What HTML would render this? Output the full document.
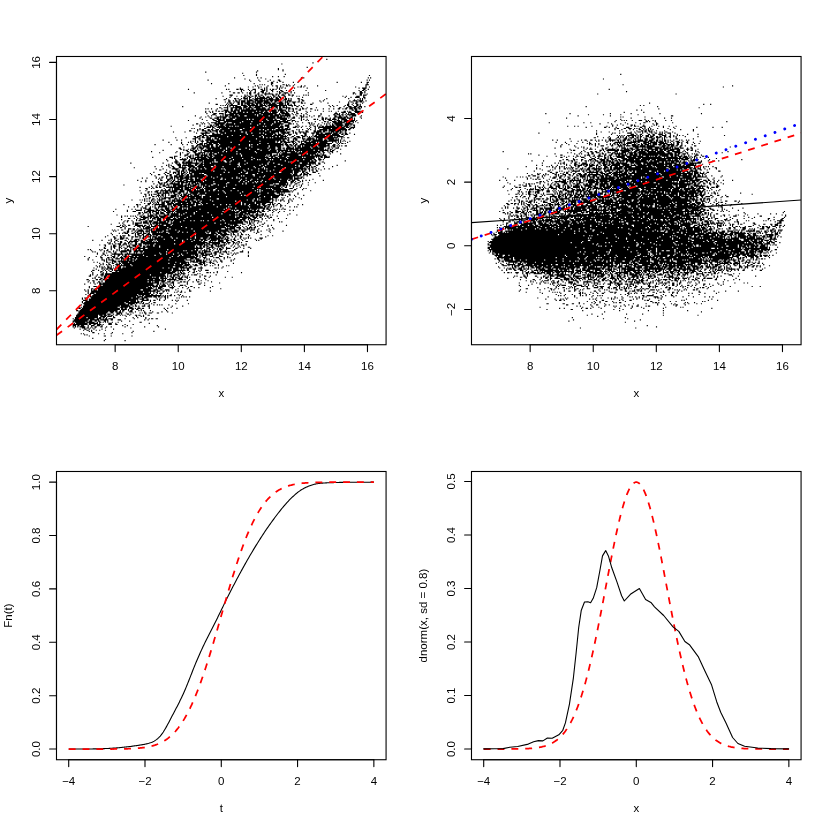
<!DOCTYPE html>
<html><head><meta charset="utf-8"><title>plot</title>
<style>html,body{margin:0;padding:0;background:#fff}svg{display:block}</style></head><body>
<svg width="830" height="830" viewBox="0 0 830 830">
<rect width="830" height="830" fill="#fff"/>
<defs>
<clipPath id="c1"><rect x="56.49" y="56.49" width="329.58" height="288.24"/></clipPath>
<clipPath id="c2"><rect x="471.49" y="56.49" width="329.58" height="288.24"/></clipPath>
<clipPath id="c3"><rect x="56.49" y="471.49" width="329.58" height="288.24"/></clipPath>
<clipPath id="c4"><rect x="471.49" y="471.49" width="329.58" height="288.24"/></clipPath>
</defs>
<g transform="scale(1.152778)" stroke="#000" stroke-width="1" fill="none">
<path d="M283 51.5h1M271 54.5h1M244 55.5h1M266 58.5h1M241 59.5h1M241 60.5h1m3 0h1M223 61.5h1m21 0h1M178 62.5h1m43 0h1M210 63.5h1M222 64.5h1m24 0h1M211 65.5h1m10 0h1m97 0h1M236 66.5h1m4 0h1m4 0h1M203 67.5h1m19 0h1m2 0h1m34 0h1m1 0h1m55 0h1m1 0h1M212 68.5h1m17 0h1M180 69.5h1m35 0h1m7 0h1m9 0h1m6 0h2m75 0h1m1 0h1M217 70.5h1m7 0h1m6 0h1m4 0h1m4 0h2M235 71.5h2m3 0h1m4 0h1m8 0h1m3 0h1m33 0h1m20 0h1m4 0h2M183 72.5h1m14 0h1m21 0h1m14 0h2m81 0h1M225 73.5h1m1 0h1m1 0h1m5 0h1m9 0h2m1 0h1m1 0h1m4 0h1m61 0h3M195 74.5h1m25 0h1m1 0h1m8 0h1m3 0h1m2 0h2m2 0h1m4 0h2m1 0h1m2 0h1m6 0h1m2 0h1m10 0h1m41 0h1M215 75.5h1m3 0h1m4 0h1m1 0h1m4 0h1m8 0h1m2 0h1m1 0h1m12 0h1m1 0h2m1 0h1m44 0h1m8 0h1m2 0h1M208 76.5h1m15 0h1m4 0h1m1 0h1m8 0h1m1 0h1m1 0h1m2 0h1m7 0h1m10 0h1m44 0h1m2 0h4M163 77.5h1m32 0h1m1 0h1m6 0h2m1 0h3m4 0h1m3 0h3m4 0h2m1 0h1m1 0h1m2 0h1m1 0h2m1 0h1m2 0h1m72 0h2m2 0h1M209 78.5h1m1 0h1m4 0h1m1 0h1m2 0h1m5 0h3m1 0h1m3 0h2m6 0h2m3 0h1m5 0h1m10 0h1m16 0h1m28 0h1m2 0h2m1 0h1M199 79.5h1m9 0h1m7 0h1m3 0h1m4 0h3m2 0h1m4 0h1m3 0h1m1 0h1m1 0h2m6 0h1m59 0h2m2 0h1M168 80.5h1m23 0h1m9 0h2m2 0h2m2 0h1m3 0h1m1 0h2m2 0h2m2 0h1m2 0h2m1 0h1m2 0h1m8 0h2m2 0h4m2 0h1m2 0h1m11 0h1m38 0h2m4 0h3m1 0h1M216 81.5h2m5 0h2m4 0h8m2 0h2m1 0h1m2 0h1m1 0h1m2 0h1m55 0h1m1 0h1m3 0h2m4 0h1M199 82.5h3m10 0h1m1 0h1m2 0h1m3 0h2m1 0h1m1 0h2m2 0h1m5 0h2m1 0h1m1 0h1m2 0h3m3 0h2m1 0h2m8 0h1m1 0h1m1 0h1m44 0h2m1 0h3M193 83.5h1m6 0h1m4 0h1m3 0h1m2 0h2m1 0h2m1 0h2m1 0h2m1 0h2m2 0h1m3 0h1m1 0h1m2 0h2m2 0h2m3 0h2m5 0h1m3 0h1m1 0h1m37 0h1m2 0h1m8 0h3m3 0h1M199 84.5h1m11 0h2m1 0h1m1 0h2m3 0h1m1 0h1m1 0h5m1 0h3m1 0h1m1 0h1m1 0h2m1 0h2m3 0h1m14 0h1m36 0h1m4 0h1m3 0h4m3 0h2M187 85.5h1m8 0h1m6 0h2m1 0h1m2 0h1m1 0h4m1 0h1m2 0h1m1 0h11m1 0h4m2 0h3m1 0h1m1 0h1m1 0h2m1 0h1m1 0h1m5 0h2m23 0h1m18 0h1m9 0h1m1 0h1m1 0h1M194 86.5h2m2 0h1m5 0h1m2 0h2m3 0h1m1 0h1m1 0h3m1 0h4m1 0h3m1 0h1m1 0h13m2 0h3m1 0h1m1 0h1m6 0h1m1 0h2m18 0h1m25 0h1m2 0h1m1 0h1m1 0h1M198 87.5h2m2 0h1m1 0h2m1 0h1m1 0h4m1 0h6m1 0h12m1 0h3m1 0h6m1 0h1m1 0h1m1 0h4m6 0h1m2 0h2m13 0h1m2 0h1m22 0h1m2 0h4m1 0h4m2 0h1M195 88.5h1m2 0h2m3 0h1m1 0h3m1 0h4m1 0h3m2 0h3m1 0h5m1 0h5m1 0h1m2 0h2m2 0h3m2 0h3m1 0h1m1 0h4m1 0h2m1 0h1m16 0h1m15 0h1m7 0h1m1 0h2m3 0h2m1 0h2m1 0h1M181 89.5h1m15 0h1m1 0h2m1 0h1m3 0h2m1 0h2m1 0h8m1 0h6m1 0h7m1 0h3m1 0h6m1 0h1m1 0h2m3 0h2m5 0h2m1 0h1m6 0h1m12 0h1m17 0h1m3 0h1m1 0h2m4 0h1M187 90.5h2m7 0h1m1 0h1m1 0h2m4 0h2m1 0h2m1 0h1m1 0h3m1 0h3m1 0h2m1 0h3m1 0h1m1 0h1m1 0h7m2 0h4m1 0h1m1 0h2m1 0h1m2 0h1m13 0h2m30 0h2m2 0h1m3 0h2m1 0h1M191 91.5h1m1 0h1m1 0h1m1 0h1m1 0h7m3 0h5m1 0h9m1 0h6m1 0h17m1 0h4m1 0h2m2 0h1m3 0h1m21 0h1m2 0h1m3 0h1m6 0h1m1 0h2m3 0h1m2 0h2m1 0h1M158 92.5h1m38 0h1m1 0h1m2 0h1m1 0h5m2 0h4m1 0h2m1 0h1m1 0h7m2 0h2m1 0h1m1 0h6m1 0h2m1 0h2m1 0h1m4 0h1m3 0h2m2 0h1m24 0h1m2 0h1m8 0h1m3 0h3m2 0h3m1 0h3m2 0h1M190 93.5h2m2 0h4m2 0h10m1 0h3m1 0h4m1 0h6m1 0h3m3 0h4m2 0h2m1 0h2m1 0h7m10 0h1m3 0h1m7 0h1m19 0h2m4 0h2m1 0h6m1 0h2m1 0h1M178 94.5h1m1 0h1m2 0h1m4 0h1m3 0h1m4 0h1m2 0h2m2 0h2m1 0h3m1 0h1m1 0h4m1 0h2m2 0h9m1 0h2m1 0h1m2 0h1m1 0h1m1 0h3m3 0h1m1 0h2m1 0h2m1 0h2m2 0h1m1 0h2m1 0h1m3 0h2m9 0h1m4 0h1m3 0h1m3 0h2m2 0h1m1 0h2m2 0h3m1 0h3m1 0h2M187 95.5h1m6 0h4m2 0h2m1 0h5m1 0h31m1 0h7m2 0h1m3 0h1m4 0h2m12 0h1m1 0h1m29 0h2m1 0h2M178 96.5h1m2 0h1m2 0h1m2 0h1m1 0h2m1 0h2m1 0h4m1 0h5m1 0h2m1 0h13m1 0h2m1 0h3m1 0h2m2 0h6m1 0h1m1 0h3m1 0h2m1 0h2m1 0h2m2 0h1m7 0h1m3 0h1m10 0h1m4 0h1m1 0h1m5 0h1m4 0h2m1 0h1m1 0h1m3 0h7M178 97.5h1m3 0h1m1 0h1m10 0h2m1 0h3m1 0h3m1 0h5m1 0h2m1 0h4m1 0h8m1 0h4m1 0h1m1 0h5m2 0h4m1 0h2m5 0h1m1 0h1m8 0h1m24 0h1m4 0h4m2 0h3m3 0h4m2 0h1M179 98.5h1m5 0h3m2 0h4m1 0h1m3 0h26m1 0h14m2 0h1m1 0h7m2 0h1m3 0h2m2 0h1m3 0h1m12 0h1m11 0h3m1 0h1m2 0h1m2 0h1m1 0h1m1 0h4m2 0h1M184 99.5h3m6 0h1m1 0h8m1 0h2m1 0h14m1 0h1m1 0h3m1 0h9m1 0h6m1 0h1m1 0h5m2 0h1m1 0h1m6 0h1m2 0h1m11 0h1m10 0h2m1 0h3m1 0h2m1 0h1m1 0h8M169 100.5h1m10 0h1m2 0h1m3 0h1m3 0h1m1 0h1m1 0h3m1 0h8m1 0h4m2 0h9m1 0h9m1 0h8m1 0h9m5 0h1m2 0h2m1 0h1m4 0h1m3 0h1m3 0h2m7 0h1m4 0h2m2 0h2m1 0h1m2 0h1m2 0h1m1 0h4m4 0h1M174 101.5h1m3 0h1m2 0h1m6 0h9m1 0h2m1 0h38m1 0h5m1 0h1m2 0h1m1 0h1m2 0h2m5 0h3m1 0h2m3 0h1m5 0h1m2 0h1m10 0h7m1 0h4m2 0h2m6 0h1M173 102.5h1m8 0h2m2 0h4m1 0h1m1 0h3m3 0h5m1 0h34m1 0h9m1 0h1m2 0h3m3 0h1m1 0h1m17 0h2m1 0h2m2 0h1m2 0h2m2 0h7m1 0h5m1 0h1m5 0h1M175 103.5h1m8 0h2m2 0h4m1 0h2m1 0h6m2 0h10m1 0h1m1 0h2m1 0h11m1 0h5m1 0h2m3 0h6m3 0h1m8 0h1m1 0h1m2 0h1m5 0h2m1 0h1m3 0h2m1 0h1m1 0h3m1 0h4m1 0h1m2 0h5m2 0h1m1 0h1m1 0h1M163 104.5h1m15 0h1m5 0h3m1 0h6m1 0h36m1 0h10m2 0h3m1 0h3m1 0h3m5 0h1m3 0h1m1 0h1m9 0h1m2 0h1m4 0h3m2 0h1m1 0h3m1 0h1m1 0h10m1 0h1M187 105.5h4m3 0h16m1 0h7m1 0h8m1 0h10m1 0h2m1 0h8m3 0h1m2 0h1m1 0h1m14 0h1m7 0h2m1 0h1m3 0h4m1 0h4m1 0h9m1 0h1M174 106.5h1m1 0h1m3 0h1m2 0h5m1 0h7m1 0h1m3 0h7m1 0h29m1 0h5m2 0h6m10 0h1m4 0h2m1 0h1m8 0h1m4 0h1m1 0h1m2 0h10m1 0h4m2 0h1m3 0h1M170 107.5h2m3 0h1m1 0h1m3 0h1m4 0h9m1 0h7m1 0h13m1 0h7m1 0h3m1 0h6m1 0h9m4 0h3m1 0h1m2 0h1m10 0h1m1 0h1m1 0h1m3 0h1m4 0h1m1 0h1m1 0h1m2 0h1m1 0h7m2 0h7M167 108.5h1m5 0h1m8 0h2m1 0h1m1 0h3m1 0h3m1 0h28m1 0h11m1 0h7m1 0h1m2 0h4m7 0h1m10 0h1m1 0h1m3 0h1m2 0h1m4 0h1m2 0h1m1 0h2m1 0h7m1 0h4m1 0h1m1 0h2M148 109.5h1m24 0h1m3 0h1m2 0h1m1 0h3m1 0h2m1 0h6m1 0h3m1 0h1m1 0h2m1 0h1m1 0h21m1 0h1m1 0h11m1 0h3m1 0h4m5 0h2m1 0h1m2 0h1m2 0h1m2 0h1m3 0h2m1 0h1m1 0h1m1 0h2m1 0h9m1 0h5m1 0h4m1 0h1m3 0h1M179 110.5h4m1 0h2m2 0h29m1 0h28m3 0h2m3 0h3m1 0h1m2 0h1m7 0h1m3 0h1m2 0h18m1 0h4m1 0h3m1 0h4M166 111.5h1m1 0h1m4 0h1m3 0h2m5 0h1m1 0h1m3 0h1m1 0h6m1 0h12m1 0h27m2 0h2m1 0h2m1 0h3m1 0h1m14 0h1m1 0h1m4 0h1m2 0h1m3 0h7m1 0h12m3 0h2m1 0h1M171 112.5h1m1 0h1m1 0h2m3 0h2m1 0h2m2 0h3m1 0h17m2 0h15m1 0h2m1 0h3m1 0h3m1 0h1m1 0h13m5 0h1m1 0h1m2 0h1m4 0h1m1 0h1m3 0h1m3 0h7m1 0h16m1 0h2M164 113.5h2m5 0h1m3 0h4m1 0h3m1 0h5m1 0h3m1 0h6m1 0h2m1 0h26m1 0h16m1 0h1m4 0h2m4 0h1m5 0h2m5 0h2m1 0h4m1 0h4m1 0h11m1 0h1m1 0h2M150 114.5h1m9 0h1m7 0h1m9 0h2m2 0h2m3 0h2m1 0h19m2 0h2m1 0h20m1 0h7m1 0h5m1 0h3m2 0h1m1 0h1m2 0h5m1 0h3m4 0h7m1 0h2m3 0h1m1 0h3m1 0h3m1 0h2m2 0h1M170 115.5h1m3 0h8m2 0h2m2 0h1m2 0h4m1 0h17m1 0h4m1 0h6m1 0h2m1 0h10m2 0h1m2 0h7m3 0h1m1 0h2m2 0h1m2 0h3m4 0h3m1 0h3m1 0h2m2 0h6m1 0h4m1 0h2m1 0h1m1 0h2m2 0h1M175 116.5h2m1 0h1m5 0h8m1 0h21m1 0h15m1 0h6m1 0h2m1 0h3m1 0h2m3 0h3m4 0h1m6 0h2m5 0h1m2 0h13m1 0h6m2 0h2m1 0h3m5 0h1M173 117.5h2m1 0h4m1 0h20m1 0h6m1 0h10m1 0h7m1 0h8m1 0h9m1 0h1m1 0h1m1 0h1m3 0h1m5 0h2m1 0h2m5 0h1m1 0h2m1 0h6m1 0h2m1 0h9m3 0h1M168 118.5h2m1 0h3m1 0h2m2 0h2m1 0h15m1 0h27m1 0h2m1 0h10m1 0h2m1 0h6m4 0h2m2 0h3m2 0h3m1 0h1m1 0h1m1 0h1m1 0h12m1 0h4m1 0h1m1 0h6M152 119.5h1m8 0h1m7 0h3m1 0h1m1 0h3m1 0h4m3 0h2m1 0h39m1 0h2m1 0h2m1 0h1m1 0h9m1 0h1m1 0h2m1 0h1m2 0h2m1 0h3m1 0h1m4 0h3m1 0h1m2 0h19m3 0h1m1 0h1m2 0h2M167 120.5h3m2 0h2m5 0h4m1 0h1m1 0h4m1 0h31m1 0h26m1 0h1m3 0h4m4 0h3m1 0h7m1 0h1m1 0h4m2 0h1m1 0h6m1 0h1m1 0h1m2 0h1M141 121.5h1m11 0h1m3 0h1m11 0h1m3 0h1m1 0h1m2 0h8m2 0h56m1 0h2m2 0h2m3 0h1m1 0h2m5 0h1m1 0h5m1 0h9m1 0h3m1 0h9m1 0h1m2 0h1M165 122.5h1m1 0h1m1 0h1m1 0h1m2 0h3m2 0h2m1 0h34m1 0h8m1 0h13m1 0h2m1 0h5m2 0h1m1 0h4m2 0h2m1 0h5m2 0h1m1 0h22m1 0h1m1 0h1m1 0h1m1 0h1m3 0h1M146 123.5h1m10 0h1m5 0h1m1 0h1m3 0h1m1 0h1m3 0h1m3 0h21m1 0h38m1 0h1m2 0h2m1 0h6m1 0h2m1 0h1m2 0h1m1 0h1m2 0h10m1 0h1m1 0h7m4 0h1m2 0h1m1 0h1m1 0h1m5 0h1M157 124.5h1m8 0h1m3 0h1m2 0h3m1 0h3m1 0h3m1 0h4m1 0h35m1 0h6m1 0h11m1 0h1m1 0h2m5 0h2m1 0h1m3 0h3m1 0h5m1 0h17m4 0h1m1 0h1m1 0h2m1 0h1M134 125.5h1m13 0h1m9 0h1m3 0h1m8 0h5m1 0h1m1 0h6m2 0h3m1 0h16m1 0h8m1 0h1m1 0h4m1 0h22m1 0h3m1 0h2m1 0h1m1 0h2m2 0h23m1 0h2m3 0h2m2 0h1M166 126.5h2m2 0h2m1 0h1m1 0h7m1 0h2m2 0h2m1 0h26m1 0h16m1 0h10m1 0h1m2 0h3m1 0h2m1 0h2m1 0h3m1 0h1m1 0h11m1 0h10m2 0h3m1 0h1m1 0h1m1 0h1m2 0h2M159 127.5h1m7 0h1m1 0h2m1 0h3m1 0h6m1 0h3m1 0h11m1 0h19m1 0h14m1 0h5m1 0h4m5 0h3m2 0h1m1 0h1m1 0h3m1 0h7m1 0h6m1 0h6m2 0h1m1 0h1m1 0h2m2 0h1M155 128.5h2m9 0h4m1 0h1m1 0h4m2 0h12m1 0h4m1 0h3m1 0h12m1 0h18m1 0h6m2 0h3m1 0h2m1 0h7m1 0h14m1 0h10m3 0h2m2 0h1m2 0h3M156 129.5h2m1 0h1m3 0h1m1 0h1m1 0h2m2 0h1m2 0h2m2 0h1m1 0h3m1 0h12m1 0h10m2 0h7m1 0h6m2 0h9m1 0h4m1 0h4m2 0h1m1 0h11m1 0h21m1 0h1m1 0h1m1 0h2m2 0h1m4 0h1M141 130.5h1m17 0h1m1 0h2m2 0h3m1 0h2m1 0h1m1 0h1m1 0h18m1 0h31m1 0h6m1 0h6m1 0h9m1 0h2m1 0h1m1 0h16m1 0h3m1 0h8m1 0h1m1 0h2M131 131.5h1m21 0h1m8 0h2m3 0h4m3 0h1m2 0h16m1 0h2m1 0h8m1 0h15m1 0h18m1 0h2m1 0h2m1 0h9m1 0h2m1 0h1m1 0h16m1 0h2m3 0h1m1 0h3m3 0h1M138 132.5h1m13 0h1m3 0h1m1 0h1m5 0h1m3 0h2m2 0h6m2 0h1m1 0h2m1 0h4m1 0h32m1 0h19m1 0h1m1 0h4m3 0h6m1 0h16m1 0h2m2 0h2m3 0h1m2 0h1M156 133.5h1m5 0h2m5 0h5m1 0h1m1 0h1m1 0h1m1 0h5m2 0h17m1 0h2m1 0h27m4 0h1m1 0h1m1 0h22m1 0h7m1 0h1m2 0h1m1 0h1m5 0h1m8 0h1M156 134.5h1m3 0h3m2 0h1m1 0h1m1 0h4m1 0h6m1 0h3m1 0h7m1 0h16m1 0h21m1 0h1m1 0h2m1 0h4m1 0h17m2 0h8m1 0h2m1 0h5m1 0h4M151 135.5h3m6 0h1m2 0h3m1 0h1m3 0h2m1 0h2m1 0h4m1 0h3m1 0h23m1 0h20m1 0h1m1 0h6m2 0h4m1 0h3m2 0h29m1 0h3m1 0h1M132 136.5h1m14 0h3m1 0h1m4 0h1m5 0h1m1 0h2m1 0h1m1 0h10m1 0h4m1 0h16m1 0h16m1 0h14m2 0h2m1 0h3m1 0h6m1 0h13m1 0h1m1 0h8m1 0h1m1 0h1m1 0h2m1 0h5M149 137.5h1m1 0h1m6 0h1m1 0h1m1 0h1m2 0h5m1 0h2m1 0h6m1 0h18m1 0h10m1 0h9m1 0h9m1 0h18m1 0h23m3 0h2m3 0h1M144 138.5h1m7 0h1m3 0h6m2 0h1m1 0h1m1 0h18m1 0h15m1 0h15m1 0h4m1 0h1m1 0h5m1 0h2m1 0h1m1 0h6m1 0h19m1 0h7m1 0h2m2 0h3m1 0h1M145 139.5h1m6 0h2m5 0h2m2 0h2m1 0h1m1 0h1m1 0h1m1 0h4m1 0h9m1 0h7m2 0h4m1 0h11m1 0h34m1 0h7m1 0h2m1 0h10m1 0h2m1 0h2m2 0h1m21 0h1M151 140.5h4m3 0h2m1 0h6m3 0h1m2 0h1m1 0h9m1 0h1m3 0h6m2 0h2m1 0h33m1 0h16m1 0h1m1 0h21m5 0h2M113 141.5h1m27 0h1m7 0h1m2 0h2m1 0h1m2 0h15m1 0h2m1 0h5m1 0h24m1 0h6m1 0h17m1 0h4m1 0h22m2 0h5m1 0h6m2 0h2m3 0h1M146 142.5h1m6 0h4m2 0h1m1 0h1m1 0h3m3 0h3m1 0h26m1 0h6m2 0h4m1 0h14m1 0h4m1 0h8m2 0h27m1 0h1m1 0h1m2 0h2M144 143.5h1m1 0h1m1 0h1m5 0h3m1 0h10m1 0h2m1 0h4m1 0h9m1 0h20m1 0h17m1 0h4m1 0h13m1 0h11m1 0h2m1 0h6m2 0h2m4 0h2m16 0h1M134 144.5h1m5 0h1m5 0h1m2 0h2m4 0h2m1 0h1m1 0h1m2 0h6m2 0h12m2 0h8m1 0h12m1 0h1m1 0h11m1 0h7m1 0h9m1 0h20m1 0h4m1 0h4m1 0h1m1 0h2m6 0h1m7 0h1M116 145.5h1m30 0h1m2 0h2m3 0h7m2 0h2m1 0h4m1 0h5m1 0h8m1 0h34m1 0h5m1 0h1m1 0h17m1 0h8m1 0h6m1 0h1m1 0h1m1 0h1m1 0h2m2 0h1M135 146.5h1m5 0h1m7 0h6m3 0h3m2 0h2m1 0h2m1 0h2m1 0h2m1 0h3m1 0h13m1 0h1m1 0h8m1 0h11m1 0h8m1 0h4m1 0h1m1 0h13m1 0h7m1 0h12m1 0h2m2 0h1m1 0h1m2 0h1m4 0h1m3 0h1M138 147.5h2m4 0h1m7 0h2m1 0h1m2 0h2m1 0h1m1 0h6m1 0h25m1 0h15m1 0h6m1 0h18m1 0h6m1 0h15m1 0h2m1 0h2m2 0h1m1 0h2m2 0h1m3 0h1M147 148.5h1m5 0h3m1 0h3m1 0h1m2 0h21m1 0h26m1 0h11m1 0h6m1 0h2m1 0h19m1 0h6m1 0h3m3 0h1m2 0h1m2 0h2M133 149.5h1m9 0h2m2 0h1m2 0h3m1 0h2m1 0h1m1 0h2m1 0h1m1 0h1m1 0h28m1 0h3m1 0h10m1 0h4m1 0h12m1 0h14m2 0h10m1 0h4m3 0h2m1 0h2m4 0h3M130 150.5h1m11 0h1m2 0h2m3 0h1m1 0h1m1 0h2m1 0h3m1 0h1m2 0h3m1 0h5m1 0h1m2 0h30m1 0h5m2 0h8m1 0h14m1 0h13m1 0h1m1 0h3m3 0h1m1 0h2m1 0h2m8 0h1M131 151.5h1m5 0h2m4 0h1m3 0h2m4 0h3m1 0h2m1 0h1m1 0h2m1 0h2m1 0h9m2 0h12m1 0h27m2 0h32m1 0h4m2 0h2m1 0h4m1 0h2M134 152.5h1m9 0h2m1 0h2m2 0h3m1 0h5m1 0h3m1 0h14m1 0h29m1 0h1m1 0h8m1 0h8m1 0h31m2 0h1m2 0h1m10 0h1M135 153.5h1m4 0h2m2 0h1m3 0h2m1 0h8m1 0h23m1 0h4m1 0h16m1 0h19m1 0h2m1 0h6m1 0h18m1 0h1m2 0h1m2 0h2M123 154.5h1m3 0h1m7 0h1m2 0h1m1 0h1m3 0h1m2 0h3m1 0h1m1 0h2m1 0h8m1 0h2m2 0h2m1 0h4m1 0h8m1 0h6m1 0h8m1 0h3m1 0h1m1 0h5m1 0h23m1 0h16m1 0h7m1 0h1M137 155.5h1m1 0h1m5 0h3m1 0h1m1 0h1m2 0h5m2 0h7m1 0h5m2 0h15m2 0h2m1 0h13m1 0h8m1 0h4m1 0h14m1 0h4m1 0h6m1 0h3m1 0h4m12 0h1M119 156.5h1m6 0h1m12 0h2m4 0h2m1 0h1m1 0h2m2 0h1m1 0h2m1 0h4m2 0h3m1 0h9m1 0h29m1 0h4m1 0h3m1 0h9m1 0h21m1 0h2m1 0h3m2 0h2m2 0h1m2 0h1m2 0h1m11 0h1M122 157.5h1m3 0h1m5 0h1m4 0h1m6 0h2m1 0h1m1 0h2m1 0h8m1 0h15m1 0h8m1 0h21m1 0h3m1 0h3m1 0h5m1 0h1m1 0h2m1 0h3m1 0h11m1 0h6m3 0h3m1 0h1m3 0h1m1 0h1M137 158.5h2m1 0h1m1 0h3m3 0h2m1 0h1m2 0h2m1 0h6m1 0h1m1 0h4m1 0h1m1 0h24m2 0h14m1 0h5m1 0h2m1 0h27m2 0h2m1 0h1m2 0h2m7 0h1m5 0h1M133 159.5h1m4 0h3m1 0h1m2 0h1m1 0h9m1 0h2m2 0h1m1 0h2m1 0h2m1 0h4m1 0h11m2 0h9m1 0h13m1 0h2m1 0h23m1 0h1m3 0h6m1 0h1m2 0h1m3 0h2m4 0h1M107 160.5h1m28 0h1m2 0h1m1 0h2m1 0h3m3 0h9m1 0h6m1 0h4m1 0h1m1 0h4m1 0h4m2 0h4m1 0h14m1 0h29m3 0h13m1 0h1m3 0h1m3 0h1m1 0h1m5 0h1M131 161.5h1m3 0h1m2 0h1m2 0h3m2 0h1m1 0h1m1 0h3m1 0h8m1 0h1m1 0h5m1 0h2m1 0h1m1 0h5m1 0h14m1 0h23m1 0h17m1 0h5m1 0h2m1 0h1m2 0h1m2 0h1m2 0h1m3 0h1M121 162.5h1m7 0h1m2 0h1m2 0h2m1 0h2m4 0h15m1 0h6m1 0h1m1 0h6m1 0h1m1 0h16m1 0h30m1 0h17m1 0h1m2 0h2m5 0h1m5 0h1M126 163.5h2m3 0h1m1 0h1m8 0h1m4 0h1m1 0h1m1 0h5m1 0h2m1 0h4m1 0h4m1 0h4m1 0h1m1 0h10m1 0h14m2 0h15m1 0h11m1 0h1m1 0h1m1 0h8m1 0h1m5 0h3m3 0h1m5 0h1m1 0h1M127 164.5h1m12 0h1m2 0h1m2 0h2m1 0h1m1 0h8m1 0h6m2 0h2m1 0h1m1 0h4m1 0h7m2 0h36m1 0h1m1 0h10m1 0h13m5 0h2m5 0h1M121 165.5h1m4 0h1m8 0h3m1 0h9m1 0h5m2 0h4m2 0h5m1 0h9m1 0h3m1 0h3m1 0h3m1 0h3m1 0h6m1 0h5m1 0h14m1 0h3m1 0h1m1 0h10m1 0h5m1 0h6m1 0h1m1 0h1m14 0h1M128 166.5h2m1 0h1m2 0h3m2 0h1m1 0h1m1 0h3m1 0h7m1 0h5m2 0h1m1 0h30m1 0h15m1 0h12m1 0h1m1 0h26m1 0h1M122 167.5h1m5 0h1m7 0h4m1 0h6m1 0h1m1 0h2m2 0h3m2 0h1m1 0h2m2 0h7m1 0h5m1 0h16m1 0h12m1 0h23m1 0h5m2 0h3m1 0h1m1 0h1m11 0h1M125 168.5h2m2 0h1m1 0h1m1 0h3m1 0h1m2 0h2m1 0h1m2 0h1m4 0h3m1 0h1m1 0h1m1 0h3m1 0h3m1 0h4m1 0h17m1 0h35m1 0h13m3 0h4m4 0h2m6 0h1M126 169.5h1m2 0h1m1 0h1m4 0h3m1 0h2m1 0h1m2 0h1m1 0h5m1 0h1m1 0h2m1 0h5m1 0h2m1 0h5m1 0h1m3 0h31m1 0h2m1 0h11m1 0h18m1 0h2m1 0h1m3 0h1m3 0h1m7 0h1M124 170.5h1m1 0h1m5 0h2m1 0h1m1 0h1m1 0h1m1 0h1m1 0h1m4 0h5m1 0h1m2 0h18m1 0h6m1 0h13m1 0h32m1 0h5m1 0h6m7 0h1m6 0h1M129 171.5h2m7 0h1m1 0h1m1 0h9m1 0h1m2 0h2m1 0h3m2 0h1m1 0h4m1 0h5m1 0h49m1 0h9m1 0h5m3 0h1m1 0h1m12 0h1M125 172.5h1m1 0h1m1 0h1m2 0h2m2 0h1m1 0h1m1 0h4m2 0h2m3 0h3m1 0h1m1 0h31m2 0h30m1 0h2m1 0h13m2 0h1m5 0h1m5 0h1m2 0h1m6 0h1M114 173.5h1m6 0h1m1 0h1m1 0h1m5 0h2m1 0h1m2 0h4m6 0h1m1 0h3m1 0h4m1 0h1m1 0h8m2 0h2m1 0h9m1 0h31m1 0h4m1 0h3m1 0h1m1 0h9m1 0h2m1 0h1m1 0h1m1 0h3m4 0h1m1 0h1M125 174.5h1m1 0h1m1 0h1m1 0h1m1 0h1m2 0h1m1 0h1m1 0h1m1 0h6m1 0h12m1 0h3m1 0h4m1 0h3m1 0h9m1 0h19m1 0h14m1 0h14m2 0h1m2 0h1m3 0h1m2 0h1m3 0h1m2 0h1M122 175.5h1m7 0h1m1 0h1m1 0h1m1 0h2m2 0h3m1 0h3m1 0h2m1 0h1m2 0h12m1 0h6m1 0h35m1 0h11m1 0h15m13 0h1M125 176.5h1m2 0h3m2 0h1m1 0h1m1 0h1m2 0h3m2 0h6m1 0h5m1 0h4m1 0h3m1 0h2m1 0h4m1 0h4m1 0h29m1 0h2m1 0h8m1 0h4m1 0h4m3 0h1m1 0h1m1 0h1m2 0h2m6 0h1M107 177.5h1m10 0h2m1 0h1m6 0h2m2 0h1m1 0h9m2 0h4m1 0h19m1 0h2m2 0h1m1 0h9m1 0h5m1 0h4m1 0h2m1 0h9m1 0h2m1 0h3m1 0h6m1 0h2m1 0h3m2 0h3m1 0h2m2 0h1m2 0h1m14 0h1m3 0h1M119 178.5h1m6 0h2m6 0h1m3 0h1m1 0h5m1 0h1m1 0h1m1 0h3m1 0h4m1 0h3m1 0h5m2 0h45m1 0h10m2 0h4m1 0h1m3 0h1m1 0h1m3 0h2m2 0h1M111 179.5h1m4 0h1m2 0h1m3 0h1m2 0h1m3 0h1m1 0h1m1 0h1m2 0h8m1 0h1m1 0h2m1 0h3m2 0h9m1 0h22m1 0h9m1 0h1m1 0h15m1 0h11m1 0h2m1 0h2m1 0h1m1 0h1m5 0h1m7 0h1m3 0h1m1 0h1M122 180.5h1m1 0h3m2 0h2m3 0h2m1 0h1m2 0h1m2 0h4m2 0h2m1 0h2m1 0h3m1 0h1m1 0h1m1 0h33m1 0h7m1 0h25m1 0h2m1 0h1m10 0h1M100 181.5h1m13 0h1m2 0h1m4 0h1m3 0h5m4 0h2m2 0h3m1 0h4m1 0h10m1 0h3m1 0h10m1 0h20m1 0h4m1 0h15m1 0h1m1 0h5m1 0h1m3 0h2m1 0h3m3 0h2m1 0h1m1 0h1m1 0h1m1 0h2M110 182.5h1m7 0h5m2 0h1m2 0h6m1 0h4m1 0h3m1 0h4m1 0h3m1 0h48m1 0h1m1 0h1m2 0h3m1 0h8m1 0h2m1 0h2m2 0h2m4 0h2m1 0h1m2 0h1m11 0h1m2 0h1M98 183.5h1m11 0h1m4 0h3m7 0h1m1 0h4m1 0h4m1 0h1m1 0h1m2 0h2m1 0h6m1 0h18m1 0h22m1 0h10m1 0h3m1 0h17m1 0h3m2 0h1m4 0h1m4 0h1m3 0h1M120 184.5h2m1 0h1m1 0h3m1 0h2m1 0h1m2 0h3m1 0h3m2 0h4m1 0h1m1 0h1m1 0h8m1 0h6m1 0h11m1 0h26m1 0h6m1 0h7m1 0h1m1 0h2m9 0h1m4 0h1M120 185.5h2m2 0h1m3 0h1m1 0h1m2 0h1m1 0h3m1 0h4m2 0h2m1 0h7m1 0h3m1 0h8m1 0h23m1 0h11m1 0h1m1 0h4m1 0h5m2 0h1m2 0h2m3 0h2m1 0h1m20 0h1M101 186.5h1m17 0h1m3 0h1m4 0h1m1 0h3m1 0h2m2 0h1m3 0h5m1 0h7m1 0h1m1 0h25m1 0h15m1 0h13m1 0h1m1 0h4m1 0h8m1 0h1m3 0h1m1 0h1m12 0h1m7 0h1M105 187.5h1m2 0h1m1 0h1m2 0h1m1 0h1m1 0h1m3 0h2m1 0h2m2 0h6m1 0h2m1 0h8m1 0h18m1 0h9m1 0h28m1 0h1m1 0h3m1 0h3m1 0h1m1 0h4m1 0h2m1 0h1m1 0h1m1 0h1m1 0h2m7 0h1M105 188.5h1m12 0h1m3 0h7m1 0h2m1 0h5m1 0h11m1 0h1m1 0h2m1 0h6m1 0h21m1 0h19m1 0h12m2 0h4m2 0h2m5 0h1m1 0h2M111 189.5h2m3 0h1m2 0h1m1 0h1m2 0h3m1 0h1m1 0h1m1 0h3m1 0h4m1 0h2m1 0h4m2 0h3m1 0h6m1 0h47m2 0h4m1 0h3m2 0h2m1 0h1m3 0h1m2 0h1m2 0h1m7 0h1m6 0h1M105 190.5h1m12 0h1m2 0h5m2 0h1m3 0h1m1 0h1m1 0h4m4 0h49m1 0h13m1 0h5m2 0h1m1 0h4m6 0h1m9 0h1M108 191.5h1m1 0h2m2 0h1m3 0h1m1 0h2m4 0h2m1 0h4m3 0h4m2 0h5m1 0h2m1 0h8m1 0h5m1 0h2m1 0h5m1 0h1m1 0h3m1 0h10m1 0h2m1 0h5m1 0h2m1 0h6m1 0h2m3 0h1m1 0h1m1 0h5m6 0h1m5 0h1M107 192.5h1m2 0h1m4 0h1m6 0h1m1 0h4m1 0h3m1 0h4m1 0h6m1 0h2m1 0h1m1 0h6m1 0h54m1 0h3m1 0h1m1 0h1m1 0h1m3 0h1m1 0h1m15 0h1m1 0h1M103 193.5h1m2 0h1m8 0h1m1 0h6m1 0h5m1 0h1m1 0h14m2 0h38m1 0h8m1 0h15m3 0h1m1 0h2m1 0h1m3 0h1m5 0h1M96 194.5h1m10 0h1m7 0h1m1 0h3m8 0h1m1 0h2m1 0h1m1 0h2m1 0h1m1 0h9m1 0h41m1 0h6m1 0h7m4 0h3m3 0h2m2 0h1m6 0h2M104 195.5h1m1 0h1m1 0h1m2 0h2m4 0h7m1 0h2m2 0h1m1 0h1m2 0h8m2 0h4m1 0h51m1 0h1m1 0h4m1 0h1m6 0h1m2 0h1m1 0h1m4 0h1m6 0h1m2 0h1m12 0h1M76 196.5h1m24 0h3m2 0h2m1 0h1m6 0h1m2 0h3m1 0h3m1 0h3m1 0h6m1 0h19m1 0h37m1 0h9m2 0h1m2 0h1m2 0h1m3 0h1m3 0h1m1 0h1m3 0h1m4 0h1M104 197.5h2m2 0h1m12 0h1m2 0h1m1 0h5m2 0h1m1 0h2m1 0h7m1 0h15m1 0h34m1 0h1m1 0h5m1 0h4m2 0h1m2 0h1m1 0h3m1 0h2m14 0h1M108 198.5h1m2 0h3m1 0h2m2 0h1m2 0h1m1 0h6m1 0h3m1 0h12m1 0h18m1 0h25m3 0h9m3 0h2m3 0h1m1 0h3m1 0h1m1 0h1m3 0h1m8 0h1m3 0h1M97 199.5h1m1 0h1m2 0h1m2 0h2m4 0h1m3 0h2m1 0h1m1 0h4m3 0h1m1 0h3m1 0h1m1 0h9m2 0h6m1 0h45m1 0h2m2 0h3m1 0h1m1 0h3m1 0h2m2 0h4m2 0h1m7 0h1m2 0h1M98 200.5h1m1 0h1m9 0h2m2 0h1m2 0h1m1 0h6m1 0h4m1 0h10m1 0h13m1 0h12m1 0h11m1 0h8m1 0h9m1 0h7m3 0h3m4 0h1m5 0h1m2 0h1m6 0h1m11 0h1M107 201.5h2m1 0h2m4 0h1m1 0h2m2 0h1m1 0h1m2 0h1m1 0h1m1 0h5m1 0h1m1 0h1m1 0h3m2 0h8m1 0h3m1 0h3m1 0h15m1 0h3m1 0h4m1 0h4m1 0h3m2 0h2m1 0h5m2 0h1m2 0h1m8 0h1m2 0h2m9 0h1M96 202.5h1m6 0h1m2 0h1m1 0h3m3 0h2m1 0h1m1 0h4m1 0h3m1 0h2m2 0h14m1 0h32m1 0h1m2 0h5m1 0h4m1 0h3m3 0h1m1 0h1m3 0h1m2 0h1m12 0h1M97 203.5h1m13 0h1m5 0h1m1 0h2m2 0h2m2 0h4m1 0h37m1 0h16m1 0h2m2 0h8m1 0h1m1 0h2m2 0h1m2 0h2m2 0h1m1 0h1m10 0h1M93 204.5h1m7 0h1m2 0h1m1 0h3m2 0h2m4 0h1m2 0h3m1 0h1m1 0h3m1 0h2m1 0h1m1 0h2m2 0h49m1 0h2m1 0h4m4 0h1m3 0h1m1 0h1m1 0h1m7 0h1m15 0h1m3 0h1M91 205.5h1m6 0h2m4 0h2m1 0h1m6 0h2m1 0h3m1 0h1m2 0h3m1 0h3m1 0h4m1 0h3m1 0h7m1 0h16m1 0h3m1 0h11m1 0h6m1 0h3m1 0h2m1 0h2m3 0h1m2 0h1m3 0h2m5 0h1m14 0h1M99 206.5h2m3 0h4m1 0h2m3 0h1m6 0h1m1 0h2m1 0h1m3 0h1m1 0h1m1 0h15m1 0h3m1 0h15m1 0h4m2 0h4m1 0h13m1 0h1m1 0h2m4 0h1m4 0h1m2 0h1m1 0h1m1 0h1m1 0h1m7 0h3M96 207.5h1m2 0h1m2 0h1m1 0h3m4 0h1m2 0h1m2 0h4m3 0h2m2 0h14m1 0h19m1 0h2m1 0h13m1 0h2m1 0h8m1 0h1m1 0h4m2 0h1m1 0h2m2 0h1m2 0h1m2 0h1m8 0h1m4 0h1M80 208.5h1m7 0h1m5 0h1m1 0h1m3 0h2m6 0h2m3 0h1m2 0h3m1 0h1m1 0h2m2 0h2m1 0h4m1 0h1m1 0h15m1 0h6m1 0h9m1 0h4m1 0h2m1 0h3m2 0h6m1 0h5m2 0h3m1 0h1m2 0h2m5 0h1m11 0h1m1 0h1M96 209.5h1m2 0h1m2 0h1m1 0h2m4 0h1m1 0h8m2 0h4m1 0h5m1 0h1m1 0h1m1 0h21m1 0h7m1 0h8m1 0h2m3 0h2m1 0h1m1 0h1m2 0h5m2 0h2m3 0h2m3 0h2m5 0h2M93 210.5h1m1 0h1m3 0h1m4 0h2m2 0h1m2 0h2m1 0h1m2 0h2m3 0h58m1 0h10m1 0h4m1 0h3m2 0h2m1 0h1m1 0h1m1 0h1M94 211.5h2m1 0h1m2 0h1m1 0h3m2 0h3m1 0h1m1 0h1m3 0h2m1 0h3m1 0h10m1 0h16m1 0h26m1 0h3m2 0h7m3 0h1m1 0h1m1 0h1m3 0h1m1 0h1m1 0h1m6 0h1M86 212.5h1m3 0h2m6 0h2m3 0h2m1 0h2m1 0h1m2 0h1m1 0h5m1 0h3m3 0h1m1 0h1m1 0h3m1 0h36m1 0h5m1 0h3m1 0h4m1 0h2m1 0h1m1 0h5m5 0h1m4 0h1m2 0h3m1 0h1M91 213.5h1m4 0h1m1 0h3m2 0h1m1 0h1m4 0h3m2 0h3m1 0h1m1 0h2m1 0h2m1 0h6m1 0h4m1 0h30m1 0h1m2 0h2m1 0h2m1 0h2m2 0h2m2 0h6m1 0h1m5 0h1m2 0h1m3 0h1m3 0h1M90 214.5h1m5 0h1m1 0h2m3 0h2m2 0h1m2 0h1m1 0h3m2 0h5m2 0h14m1 0h30m1 0h2m1 0h2m1 0h2m1 0h1m1 0h5m3 0h1m2 0h2m2 0h1m5 0h1m3 0h1m1 0h1m6 0h2M90 215.5h2m4 0h1m2 0h1m3 0h1m1 0h1m2 0h2m3 0h1m1 0h2m1 0h8m2 0h48m3 0h3m2 0h1m1 0h1m1 0h1m1 0h2m1 0h1m2 0h4m4 0h2m5 0h1m5 0h1M76 216.5h1m1 0h1m7 0h1m1 0h1m4 0h1m2 0h1m4 0h1m1 0h1m4 0h1m1 0h2m1 0h1m1 0h4m1 0h2m2 0h21m1 0h23m1 0h2m2 0h1m2 0h1m1 0h1m1 0h2m2 0h1m2 0h1m1 0h3m3 0h1m6 0h1M79 217.5h1m7 0h1m2 0h1m1 0h2m4 0h1m2 0h1m1 0h1m1 0h9m2 0h43m1 0h1m1 0h4m1 0h5m1 0h1m1 0h5m1 0h1m2 0h1m4 0h1m1 0h1m3 0h1m5 0h2m7 0h1M80 218.5h1m1 0h1m7 0h1m3 0h2m2 0h1m1 0h1m3 0h6m2 0h2m2 0h4m1 0h3m1 0h19m1 0h26m1 0h2m1 0h1m1 0h6m3 0h4m1 0h1m1 0h4m1 0h1m9 0h3m4 0h1M84 219.5h1m4 0h1m2 0h1m3 0h1m2 0h2m4 0h1m4 0h1m1 0h1m3 0h1m1 0h1m3 0h1m1 0h14m1 0h15m1 0h7m1 0h8m1 0h7m4 0h1m1 0h3m2 0h2m4 0h1m3 0h1m2 0h1m1 0h2m8 0h1M84 220.5h1m4 0h2m6 0h10m1 0h31m1 0h4m1 0h5m1 0h6m1 0h14m2 0h3m1 0h6m2 0h2m4 0h2m3 0h2m3 0h1m1 0h1M88 221.5h1m2 0h1m1 0h1m2 0h1m2 0h1m2 0h2m2 0h1m1 0h2m1 0h1m2 0h10m1 0h9m1 0h20m1 0h2m1 0h7m1 0h1m1 0h3m1 0h1m1 0h5m1 0h1m2 0h1m1 0h1m3 0h1m10 0h1m13 0h1M73 222.5h1m9 0h1m3 0h1m9 0h3m2 0h1m2 0h1m1 0h9m1 0h2m1 0h7m1 0h21m1 0h4m1 0h14m1 0h2m1 0h1m1 0h1m2 0h1m3 0h3m5 0h3m4 0h1m17 0h1M77 223.5h1m9 0h2m4 0h2m1 0h1m1 0h2m1 0h1m2 0h3m1 0h4m1 0h34m1 0h23m2 0h1m2 0h3m6 0h1m1 0h3m4 0h1m2 0h1m1 0h1M76 224.5h1m11 0h1m3 0h1m1 0h1m2 0h1m2 0h4m1 0h3m1 0h6m1 0h2m1 0h43m3 0h3m1 0h4m4 0h1m1 0h1m1 0h1m8 0h1m3 0h1m8 0h1M76 225.5h1m3 0h1m7 0h3m1 0h1m1 0h5m6 0h1m1 0h2m1 0h2m1 0h4m1 0h28m1 0h13m1 0h5m2 0h1m1 0h5m1 0h1m2 0h1m1 0h1m1 0h1m2 0h1m4 0h1m8 0h1m1 0h1M90 226.5h1m1 0h1m4 0h4m1 0h13m1 0h45m4 0h4m1 0h5m1 0h3m3 0h1m2 0h1m1 0h1m3 0h2m7 0h1M81 227.5h1m2 0h1m7 0h2m1 0h1m1 0h1m1 0h2m2 0h1m1 0h6m1 0h40m1 0h11m1 0h1m1 0h5m1 0h5m1 0h1m1 0h3m4 0h1m3 0h1M86 228.5h1m2 0h1m4 0h1m2 0h2m2 0h1m1 0h2m1 0h40m1 0h9m1 0h5m1 0h1m8 0h3m1 0h2m4 0h1m1 0h2m16 0h1M87 229.5h1m1 0h1m2 0h1m1 0h2m4 0h4m1 0h1m1 0h6m1 0h37m1 0h7m1 0h5m2 0h1m1 0h2m2 0h3m1 0h1m1 0h1m6 0h1m2 0h1M83 230.5h1m2 0h1m6 0h1m2 0h1m1 0h1m2 0h13m1 0h43m1 0h5m1 0h1m2 0h4m5 0h2m3 0h1m1 0h1m4 0h1m6 0h1m1 0h1M84 231.5h1m1 0h1m1 0h1m1 0h1m2 0h2m1 0h1m3 0h1m1 0h3m2 0h1m1 0h41m2 0h8m1 0h1m2 0h3m7 0h1m18 0h1M81 232.5h1m6 0h2m1 0h1m1 0h4m1 0h1m1 0h5m1 0h35m1 0h4m1 0h8m1 0h10m3 0h1m2 0h4m10 0h2m1 0h1m2 0h1M83 233.5h1m4 0h1m1 0h1m1 0h2m1 0h3m1 0h2m1 0h47m1 0h5m2 0h1m1 0h1m2 0h2m3 0h3m4 0h1M80 234.5h2m3 0h1m3 0h1m1 0h1m2 0h1m2 0h1m1 0h50m1 0h11m1 0h2m4 0h1m3 0h1m1 0h1m3 0h3M79 235.5h1m7 0h2m3 0h1m2 0h2m3 0h2m1 0h45m1 0h4m1 0h1m1 0h1m1 0h1m5 0h1m3 0h1m1 0h1m2 0h1m14 0h1m8 0h1M80 236.5h1m6 0h1m1 0h1m2 0h1m4 0h42m1 0h12m2 0h1m1 0h2m1 0h1m3 0h1m3 0h2m10 0h2m1 0h1m2 0h1m2 0h1m20 0h1M80 237.5h1m7 0h2m1 0h53m1 0h5m2 0h1m1 0h2m1 0h4m10 0h1m1 0h1M78 238.5h1m1 0h1m3 0h1m2 0h3m1 0h39m1 0h12m2 0h1m2 0h1m1 0h5m1 0h1m2 0h1m3 0h1m2 0h1m1 0h3m4 0h1m11 0h1M77 239.5h2m4 0h1m4 0h1m1 0h3m1 0h50m1 0h1m1 0h2m1 0h2m2 0h2m2 0h1m1 0h1m1 0h1m10 0h1m3 0h2m3 0h1M82 240.5h1m2 0h2m3 0h2m1 0h39m1 0h1m1 0h3m1 0h3m1 0h1m1 0h1m2 0h3m1 0h2m1 0h1m1 0h2m1 0h3m1 0h1m8 0h1m7 0h1m13 0h1m5 0h1M80 241.5h1m1 0h1m4 0h2m1 0h2m2 0h44m1 0h6m2 0h1m1 0h2m1 0h1m1 0h4m4 0h1m14 0h1M75 242.5h2m6 0h2m1 0h2m1 0h39m1 0h4m1 0h5m1 0h2m1 0h1m1 0h8m2 0h4m1 0h1m3 0h1m5 0h1m1 0h1m5 0h1M77 243.5h1m2 0h2m6 0h1m2 0h53m3 0h1m3 0h1m1 0h2m8 0h1m6 0h1m3 0h1m5 0h1M76 244.5h1m4 0h1m3 0h2m1 0h1m2 0h37m1 0h2m1 0h1m1 0h4m2 0h3m2 0h3m1 0h2m5 0h2m1 0h2m1 0h1m4 0h1m3 0h2m10 0h1M78 245.5h1m2 0h1m2 0h1m1 0h2m1 0h49m1 0h1m1 0h1m1 0h2m3 0h3m3 0h2m6 0h1m11 0h1m2 0h1m12 0h1M73 246.5h1m8 0h1m3 0h47m3 0h2m1 0h1m1 0h2m2 0h1m1 0h1m2 0h1m11 0h1m9 0h2M86 247.5h2m1 0h45m1 0h2m1 0h1m1 0h4m2 0h1m1 0h1m1 0h1m5 0h3m1 0h1m16 0h1M77 248.5h1m3 0h3m1 0h44m1 0h1m1 0h5m1 0h6m2 0h1m2 0h1m1 0h1m3 0h1m5 0h1m3 0h2m17 0h1M77 249.5h1m6 0h43m1 0h4m1 0h1m1 0h1m1 0h4m6 0h4m7 0h1m4 0h1m4 0h1m3 0h1m9 0h1M79 250.5h2m1 0h51m2 0h1m1 0h3m1 0h1m7 0h1m4 0h1m7 0h1m28 0h1M73 251.5h1m2 0h1m2 0h1m1 0h3m1 0h37m2 0h7m2 0h4m2 0h2m2 0h4m5 0h1m11 0h1M74 252.5h1m1 0h1m2 0h56m1 0h3m2 0h2m1 0h1m1 0h1m7 0h1m2 0h1m6 0h2m16 0h1M76 253.5h1m2 0h45m1 0h4m1 0h1m2 0h1m1 0h2m4 0h1m9 0h1m1 0h1m2 0h2m2 0h1M76 254.5h1m1 0h4m1 0h48m2 0h1m2 0h1m1 0h3m4 0h1M74 255.5h1m2 0h2m2 0h38m1 0h10m1 0h2m2 0h1m3 0h1m8 0h1m5 0h1m1 0h1M76 256.5h1m1 0h1m1 0h40m1 0h1m1 0h2m1 0h14m1 0h1m1 0h1m1 0h1m1 0h2m2 0h1m3 0h1m2 0h1M76 257.5h1m1 0h40m1 0h5m1 0h7m1 0h3m1 0h2m1 0h1m1 0h2m1 0h1m11 0h1m1 0h1m1 0h1m2 0h1M71 258.5h1m1 0h3m3 0h35m1 0h6m2 0h5m7 0h1m3 0h1m3 0h1m1 0h1m7 0h1m1 0h1M71 259.5h1m2 0h2m1 0h43m1 0h4m2 0h2m7 0h1m1 0h1m4 0h1M72 260.5h4m1 0h41m1 0h1m3 0h6m1 0h1m2 0h2m3 0h1m3 0h1m6 0h1m2 0h1m1 0h1m7 0h1M71 261.5h1m2 0h38m1 0h5m1 0h2m1 0h2m6 0h1m22 0h1M71 262.5h1m1 0h35m1 0h12m1 0h1m1 0h1m4 0h1m3 0h2M72 263.5h37m2 0h6m1 0h1m2 0h1m1 0h2m1 0h3m2 0h1m20 0h1m10 0h1M70 264.5h1m2 0h39m1 0h2m2 0h1m7 0h1m3 0h1m3 0h1m2 0h1m1 0h1m1 0h1m5 0h1M72 265.5h32m1 0h8m2 0h1m1 0h2m1 0h1m2 0h3m2 0h2m19 0h1m8 0h1M68 266.5h1m1 0h1m1 0h30m2 0h7m1 0h3m5 0h1m8 0h1m18 0h1M68 267.5h2m1 0h33m1 0h2m1 0h2m2 0h4m1 0h1m1 0h3m1 0h2m4 0h1m12 0h1m2 0h1m7 0h1M70 268.5h34m1 0h5m1 0h1m2 0h2m2 0h2m2 0h1m20 0h1M66 269.5h2m1 0h33m2 0h1m1 0h2m3 0h1m1 0h2m5 0h1m1 0h1m1 0h1m5 0h1m13 0h1M68 270.5h26m1 0h4m1 0h2m1 0h2m1 0h1m5 0h3m2 0h1m7 0h1m6 0h1m7 0h1m4 0h1M68 271.5h25m3 0h2m3 0h5m3 0h1m5 0h1m5 0h1m1 0h1m1 0h2m2 0h3m4 0h2m11 0h1M67 272.5h25m1 0h3m2 0h1m2 0h3m1 0h1m4 0h2m1 0h1m12 0h1M66 273.5h19m1 0h3m1 0h3m1 0h1m1 0h2m2 0h2m2 0h1m1 0h1m1 0h1m3 0h1m4 0h2m1 0h2m2 0h1m3 0h2M66 274.5h19m2 0h5m1 0h4m1 0h1m10 0h1m8 0h1m3 0h1m1 0h1M65 275.5h10m1 0h9m1 0h2m1 0h2m1 0h1m5 0h2m15 0h1m3 0h1m6 0h1M63 276.5h1m1 0h17m2 0h4m1 0h1m1 0h2m1 0h4m10 0h1m7 0h1m9 0h1m2 0h1m1 0h2m2 0h2M64 277.5h13m1 0h8m1 0h7m2 0h2m4 0h3m20 0h1m2 0h1M63 278.5h13m1 0h3m2 0h2m1 0h2m3 0h2m1 0h1m11 0h1m6 0h1M63 279.5h1m1 0h9m1 0h7m2 0h1m1 0h2m1 0h1m1 0h1m1 0h1m3 0h1m4 0h1m18 0h2M64 280.5h1m1 0h10m1 0h8m1 0h1m7 0h3m3 0h1m28 0h1M63 281.5h13m1 0h2m2 0h2m1 0h4m1 0h1m4 0h3m3 0h2m6 0h1m6 0h1M63 282.5h3m1 0h2m1 0h3m3 0h1m2 0h3m2 0h3m1 0h1m17 0h1m3 0h1m25 0h1M63 283.5h1m1 0h1m1 0h1m1 0h5m2 0h1m2 0h1m2 0h2m3 0h2m3 0h1m3 0h1m11 0h1m16 0h1m11 0h1M64 284.5h1m6 0h3m1 0h2m1 0h1m1 0h1m1 0h1m8 0h1m21 0h1M69 285.5h1m3 0h2m2 0h1m3 0h1m6 0h1m9 0h1m44 0h1M72 286.5h1m2 0h2m2 0h1m3 0h1m2 0h1m4 0h1M77 287.5h1m1 0h1m35 0h1m17 0h1M80 288.5h2m15 0h1m16 0h1M70 289.5h1m1 0h1m12 0h1m4 0h1m5 0h1m9 0h1M73 290.5h1m1 0h1M77 291.5h1m12 0h2m4 0h1m17 0h1M80 293.5h1M91 294.5h1M90 295.5h1m17 0h1"/>
<path d="M538 64.5h1M523 68.5h1M540 73.5h1M635 74.5h1M627 75.5h1M528 77.5h1M543 79.5h1M518 81.5h1m67 0h1M563 89.5h1M610 90.5h1m5 0h1M555 91.5h1m2 0h1M508 92.5h1m61 0h1M606 93.5h1M571 94.5h1M552 95.5h1m3 0h1M541 97.5h1m16 0h1M473 98.5h1m20 0h1m34 0h1m17 0h1m24 0h1m35 0h1M510 99.5h1m12 0h1m14 0h1m14 0h1M501 100.5h1m27 0h1m52 0h2M538 101.5h1m1 0h1m18 0h1M491 102.5h1m55 0h1m17 0h1m10 0h1m5 0h1M538 103.5h1m20 0h1M534 104.5h1m4 0h1m1 0h1m1 0h1m4 0h1m5 0h3m3 0h1m1 0h1m3 0h1m1 0h1m8 0h1m4 0h1M533 105.5h1m26 0h2m1 0h1m4 0h1m61 0h1M476 106.5h1m29 0h1m5 0h1m14 0h1m14 0h1m8 0h1m6 0h2m9 0h1m13 0h1M520 107.5h1m9 0h1m7 0h1m5 0h1m10 0h1m10 0h1m2 0h2M531 108.5h1m3 0h1m4 0h1m6 0h2m1 0h1m7 0h1m8 0h1m1 0h1M492 109.5h1m5 0h1m2 0h1m11 0h1m12 0h1m4 0h1m15 0h1m2 0h2m1 0h1m3 0h3m5 0h1m5 0h1m3 0h1m4 0h1m5 0h1M508 110.5h1m15 0h2m2 0h1m5 0h1m8 0h3m9 0h2m2 0h1m3 0h1m11 0h1m8 0h1m19 0h1m13 0h1m7 0h1M533 111.5h1m1 0h2m4 0h2m2 0h3m2 0h1m1 0h1m1 0h1m2 0h1m1 0h1m2 0h1m1 0h1m5 0h1m8 0h1m5 0h1M533 112.5h1m5 0h1m6 0h1m2 0h1m4 0h2m2 0h1m1 0h1m1 0h1m1 0h1m1 0h1m14 0h1m8 0h1m10 0h1M517 113.5h1m19 0h1m5 0h1m8 0h1m3 0h2m1 0h2m1 0h2m1 0h1m3 0h1m6 0h1m24 0h1M521 114.5h1m6 0h1m11 0h1m6 0h1m2 0h1m2 0h3m1 0h1m1 0h2m2 0h3m1 0h1m4 0h1m1 0h1m2 0h2m4 0h1M467 115.5h1m49 0h1m13 0h1m1 0h1m3 0h1m6 0h4m3 0h1m5 0h1m3 0h1m3 0h1m2 0h2m2 0h1m1 0h1m1 0h1m2 0h3m3 0h1M517 116.5h1m12 0h1m16 0h3m2 0h1m2 0h2m5 0h2m2 0h2m3 0h4m2 0h1m3 0h1m5 0h1m8 0h1m8 0h1M535 117.5h1m1 0h1m1 0h1m1 0h1m2 0h8m1 0h1m1 0h1m1 0h1m2 0h3m1 0h1m1 0h2m4 0h1m1 0h4m3 0h1m2 0h1m2 0h1m1 0h1m2 0h1m35 0h1M518 118.5h1m9 0h1m7 0h1m1 0h1m1 0h1m2 0h1m1 0h1m2 0h2m1 0h1m1 0h1m1 0h2m3 0h3m1 0h3m2 0h2m1 0h2m2 0h2m2 0h2m2 0h1m1 0h1m7 0h1m10 0h1M515 119.5h2m6 0h1m3 0h1m1 0h1m5 0h2m1 0h1m1 0h1m1 0h2m2 0h4m2 0h2m1 0h1m2 0h1m1 0h1m2 0h3m1 0h1m1 0h4m1 0h1m1 0h1m1 0h1m2 0h1m4 0h1M494 120.5h1m33 0h2m4 0h1m2 0h1m3 0h3m1 0h1m1 0h1m2 0h2m1 0h1m1 0h1m3 0h3m3 0h3m2 0h1m3 0h1m1 0h1m9 0h2m13 0h1M479 121.5h1m3 0h1m20 0h1m2 0h2m3 0h2m2 0h1m2 0h1m2 0h1m2 0h1m2 0h6m1 0h2m1 0h1m1 0h3m1 0h3m2 0h1m1 0h1m1 0h5m1 0h3m1 0h4m2 0h2m1 0h1m1 0h1m1 0h2m1 0h1m1 0h1m2 0h1m4 0h1m1 0h1m3 0h1m1 0h1M495 122.5h1m5 0h1m7 0h1m7 0h1m1 0h1m5 0h1m1 0h1m1 0h1m1 0h1m4 0h1m1 0h1m1 0h2m5 0h1m1 0h12m1 0h4m1 0h1m1 0h2m1 0h3m1 0h2m1 0h1m2 0h2m2 0h3m3 0h1m3 0h1m10 0h1M482 123.5h1m7 0h1m14 0h1m5 0h1m14 0h1m6 0h7m1 0h1m2 0h8m1 0h2m3 0h5m1 0h6m1 0h5m1 0h1m1 0h1m1 0h1m2 0h1m2 0h3m1 0h1m3 0h2m4 0h1M491 124.5h1m8 0h1m8 0h1m1 0h2m3 0h1m2 0h1m9 0h1m2 0h2m1 0h1m1 0h1m1 0h1m1 0h1m1 0h5m2 0h1m1 0h1m3 0h1m1 0h3m1 0h3m1 0h4m2 0h7m3 0h1m1 0h1m2 0h2m2 0h1m4 0h1m5 0h1m3 0h1M487 125.5h1m5 0h1m17 0h1m1 0h1m2 0h1m2 0h1m6 0h1m2 0h1m1 0h1m1 0h1m1 0h2m1 0h1m1 0h3m1 0h1m3 0h4m1 0h2m1 0h2m1 0h4m1 0h1m1 0h4m1 0h3m1 0h2m1 0h7m2 0h2m2 0h1m8 0h1M486 126.5h1m11 0h1m17 0h1m4 0h3m6 0h2m4 0h4m1 0h1m1 0h4m1 0h6m1 0h5m1 0h7m4 0h1m1 0h4m1 0h2m1 0h3m1 0h2m2 0h2m2 0h1m7 0h2M486 127.5h1m12 0h1m4 0h1m1 0h1m11 0h1m8 0h1m7 0h1m1 0h1m1 0h1m1 0h1m7 0h23m1 0h4m1 0h2m1 0h3m1 0h1m3 0h2m8 0h1m33 0h1M481 128.5h1m19 0h1m4 0h1m2 0h1m2 0h1m9 0h1m2 0h2m4 0h1m2 0h1m4 0h4m1 0h1m1 0h3m2 0h3m3 0h1m1 0h1m1 0h5m2 0h6m1 0h7m1 0h1m1 0h4m1 0h3m3 0h1m2 0h2M494 129.5h1m13 0h1m2 0h3m2 0h1m5 0h2m1 0h1m1 0h7m1 0h2m2 0h1m1 0h5m1 0h4m1 0h9m1 0h9m1 0h8m1 0h9m5 0h3m2 0h1m4 0h1M495 130.5h1m1 0h2m7 0h1m13 0h2m1 0h1m2 0h11m1 0h9m1 0h1m2 0h4m1 0h2m1 0h4m2 0h2m1 0h3m1 0h3m1 0h2m1 0h6m2 0h3m3 0h1m2 0h1m2 0h2m2 0h1M436 131.5h1m67 0h1m2 0h1m4 0h2m2 0h2m2 0h1m3 0h1m2 0h1m5 0h3m3 0h7m1 0h1m2 0h3m1 0h6m1 0h8m1 0h6m2 0h3m2 0h7m2 0h1m1 0h1m8 0h1m1 0h1m25 0h1M492 132.5h1m2 0h1m7 0h1m5 0h2m2 0h2m2 0h3m2 0h1m4 0h3m1 0h3m1 0h1m1 0h1m1 0h4m2 0h7m1 0h8m1 0h15m2 0h4m2 0h7m3 0h2m9 0h1m19 0h1M458 133.5h1m1 0h1m20 0h1m16 0h1m3 0h1m1 0h1m5 0h1m2 0h2m5 0h1m1 0h2m1 0h1m4 0h2m1 0h8m1 0h1m1 0h1m1 0h3m1 0h3m1 0h30m1 0h2m1 0h2m2 0h3m1 0h1m3 0h1m1 0h1m1 0h1M467 134.5h1m18 0h2m12 0h1m6 0h1m1 0h3m3 0h1m3 0h2m3 0h2m2 0h3m3 0h1m1 0h2m1 0h5m2 0h7m1 0h2m1 0h14m1 0h8m1 0h3m1 0h4m2 0h1m1 0h1m3 0h1m5 0h3m2 0h1M474 135.5h1m7 0h1m6 0h1m3 0h1m3 0h1m2 0h2m1 0h1m3 0h1m3 0h1m2 0h2m2 0h5m1 0h1m2 0h1m1 0h1m2 0h1m1 0h8m1 0h5m1 0h9m2 0h3m1 0h1m1 0h1m1 0h2m1 0h2m1 0h6m2 0h2m1 0h2m1 0h4m1 0h3m1 0h1m1 0h1m2 0h2m5 0h2M486 136.5h2m3 0h1m7 0h1m4 0h3m5 0h1m3 0h1m2 0h1m4 0h2m1 0h1m1 0h2m4 0h7m2 0h8m1 0h21m2 0h1m1 0h10m1 0h2m1 0h5m1 0h1m1 0h1m1 0h1m1 0h1m2 0h1m6 0h1M497 137.5h1m9 0h1m5 0h3m2 0h2m1 0h1m2 0h2m1 0h1m1 0h3m1 0h2m4 0h5m1 0h11m1 0h36m1 0h4m1 0h1m2 0h1m1 0h1m6 0h1m9 0h1M488 138.5h1m2 0h2m4 0h2m1 0h1m3 0h2m5 0h3m1 0h2m3 0h5m1 0h2m2 0h3m1 0h1m1 0h2m2 0h10m1 0h4m1 0h8m1 0h4m1 0h8m1 0h3m1 0h1m1 0h3m1 0h1m1 0h6m2 0h1m1 0h3m1 0h1m9 0h1m27 0h1M461 139.5h1m9 0h1m13 0h2m6 0h1m1 0h2m1 0h1m5 0h1m2 0h2m1 0h1m1 0h1m1 0h1m1 0h3m2 0h4m1 0h4m1 0h1m1 0h3m1 0h5m1 0h18m1 0h1m1 0h2m1 0h22m1 0h1m2 0h1m3 0h1m1 0h4m5 0h1m5 0h1m3 0h1m4 0h1M489 140.5h1m6 0h1m2 0h2m7 0h1m4 0h1m1 0h1m2 0h4m1 0h4m1 0h5m2 0h2m1 0h1m1 0h1m2 0h2m1 0h16m1 0h9m2 0h2m1 0h2m1 0h1m1 0h3m1 0h5m1 0h4m2 0h1m1 0h1m4 0h4M470 141.5h1m10 0h1m2 0h1m1 0h1m1 0h2m5 0h1m2 0h2m2 0h1m2 0h4m3 0h1m2 0h1m3 0h2m1 0h3m1 0h1m1 0h1m1 0h3m1 0h10m3 0h3m1 0h5m2 0h12m1 0h5m1 0h10m2 0h1m1 0h4m1 0h1m1 0h10M486 142.5h1m2 0h1m1 0h1m6 0h3m3 0h6m1 0h1m1 0h2m3 0h1m1 0h1m2 0h4m1 0h2m1 0h7m1 0h7m1 0h1m2 0h1m1 0h5m1 0h2m1 0h22m2 0h6m2 0h9m1 0h1m5 0h1m5 0h1M465 143.5h1m4 0h1m7 0h1m4 0h1m7 0h1m2 0h1m3 0h2m1 0h4m1 0h1m1 0h2m1 0h5m1 0h2m2 0h1m1 0h3m1 0h2m1 0h8m2 0h6m1 0h5m1 0h12m1 0h10m1 0h2m1 0h3m1 0h7m1 0h2m1 0h9m2 0h1M456 144.5h1m17 0h1m1 0h1m2 0h1m2 0h1m2 0h1m1 0h1m1 0h1m5 0h1m3 0h1m1 0h2m4 0h2m2 0h3m3 0h1m1 0h2m3 0h3m2 0h2m2 0h3m1 0h4m1 0h6m3 0h10m1 0h4m1 0h1m1 0h15m1 0h14m3 0h1m2 0h1m1 0h1m2 0h1m1 0h1m1 0h1m3 0h1M465 145.5h1m13 0h1m1 0h1m3 0h1m3 0h1m1 0h1m1 0h1m1 0h3m3 0h1m3 0h1m4 0h2m2 0h2m1 0h1m1 0h1m1 0h1m2 0h4m1 0h2m1 0h8m1 0h28m1 0h8m2 0h7m1 0h13m1 0h2m1 0h1m1 0h1m2 0h1m9 0h2M440 146.5h1m24 0h1m2 0h1m12 0h1m3 0h1m3 0h2m1 0h1m1 0h1m1 0h1m2 0h2m2 0h3m1 0h1m1 0h3m1 0h9m1 0h3m1 0h1m1 0h2m1 0h8m1 0h3m1 0h11m1 0h23m1 0h11m1 0h3m2 0h2m1 0h3m1 0h3m3 0h1m3 0h1m5 0h1M470 147.5h1m6 0h1m1 0h1m15 0h1m1 0h1m4 0h1m1 0h1m1 0h1m1 0h4m3 0h3m1 0h2m3 0h1m1 0h8m1 0h3m2 0h1m1 0h45m1 0h2m1 0h2m1 0h2m3 0h2m2 0h2m2 0h2m4 0h1M463 148.5h1m11 0h2m8 0h1m1 0h1m5 0h1m2 0h7m2 0h2m1 0h1m2 0h2m1 0h1m2 0h3m1 0h1m2 0h5m2 0h1m2 0h2m1 0h4m1 0h3m1 0h2m1 0h2m1 0h11m2 0h5m1 0h5m1 0h20m1 0h7m18 0h2M477 149.5h2m3 0h2m5 0h1m1 0h2m2 0h1m3 0h1m6 0h1m2 0h10m1 0h3m2 0h1m2 0h3m1 0h8m1 0h3m1 0h1m2 0h3m1 0h16m1 0h22m1 0h2m2 0h3m1 0h1m1 0h4m1 0h1m2 0h1m2 0h2M457 150.5h1m8 0h1m1 0h1m4 0h1m5 0h2m1 0h1m3 0h1m1 0h1m2 0h2m4 0h2m2 0h3m3 0h2m2 0h1m1 0h1m3 0h2m2 0h4m1 0h4m1 0h5m1 0h1m1 0h5m1 0h15m1 0h11m1 0h28m1 0h4m1 0h4m1 0h1M461 151.5h1m4 0h2m3 0h1m1 0h1m1 0h1m5 0h2m1 0h1m3 0h3m2 0h2m2 0h1m2 0h1m1 0h3m1 0h3m1 0h11m1 0h1m1 0h4m2 0h1m1 0h13m1 0h2m2 0h23m1 0h17m1 0h4m1 0h4m1 0h2m1 0h2m2 0h1m1 0h1M458 152.5h2m2 0h3m5 0h1m1 0h1m9 0h1m1 0h1m1 0h2m2 0h1m3 0h1m1 0h1m3 0h2m1 0h5m1 0h3m2 0h4m2 0h4m1 0h5m2 0h4m1 0h5m1 0h44m1 0h12m1 0h3m1 0h3m1 0h1m2 0h1m4 0h1m8 0h1M436 153.5h1m11 0h1m2 0h1m1 0h1m2 0h1m9 0h2m2 0h1m6 0h1m2 0h3m2 0h2m2 0h1m2 0h2m4 0h2m3 0h5m1 0h1m1 0h5m1 0h3m1 0h3m1 0h2m1 0h5m1 0h5m1 0h7m1 0h8m1 0h1m1 0h15m2 0h5m1 0h8m2 0h8m1 0h12m12 0h1M438 154.5h1m18 0h1m2 0h1m5 0h1m4 0h1m7 0h3m3 0h2m6 0h2m2 0h2m1 0h2m3 0h1m1 0h1m1 0h1m2 0h1m1 0h2m2 0h2m1 0h13m1 0h2m1 0h18m1 0h3m1 0h11m1 0h29m1 0h2m8 0h1m5 0h1M457 155.5h1m4 0h1m1 0h2m1 0h2m7 0h1m6 0h1m3 0h2m1 0h1m1 0h2m2 0h1m1 0h1m2 0h1m1 0h1m2 0h2m1 0h1m1 0h4m1 0h17m1 0h55m1 0h2m1 0h1m1 0h6m2 0h6m5 0h1m3 0h1M433 156.5h1m5 0h1m6 0h1m27 0h1m3 0h1m6 0h1m2 0h3m3 0h10m2 0h1m1 0h8m1 0h2m1 0h7m1 0h16m1 0h1m2 0h4m1 0h25m1 0h10m1 0h7m1 0h9m3 0h3m1 0h2m3 0h1m3 0h1m3 0h1m7 0h1M468 157.5h2m1 0h1m3 0h1m5 0h10m1 0h1m1 0h2m1 0h1m2 0h1m1 0h2m2 0h1m1 0h1m1 0h9m1 0h9m1 0h8m1 0h3m1 0h3m1 0h9m1 0h3m1 0h22m1 0h1m2 0h1m1 0h10m1 0h3m1 0h2m1 0h3m2 0h2m2 0h1m2 0h1m2 0h1M440 158.5h1m13 0h1m10 0h2m1 0h1m3 0h1m6 0h1m2 0h1m4 0h5m2 0h1m1 0h1m3 0h1m1 0h4m4 0h6m1 0h3m1 0h2m1 0h3m2 0h10m1 0h8m1 0h18m2 0h19m1 0h5m2 0h1m1 0h1m1 0h4m2 0h2m2 0h1m2 0h1m1 0h1m2 0h2m5 0h1M442 159.5h1m13 0h1m1 0h2m1 0h1m1 0h1m4 0h1m6 0h1m2 0h1m2 0h1m1 0h2m4 0h3m2 0h1m2 0h2m1 0h3m3 0h1m1 0h2m1 0h3m2 0h3m1 0h8m1 0h14m2 0h5m1 0h20m1 0h29m1 0h2m1 0h2m3 0h2m3 0h2m2 0h1m1 0h1m5 0h1M450 160.5h2m1 0h1m2 0h1m2 0h1m11 0h1m3 0h1m1 0h1m2 0h2m2 0h2m2 0h2m2 0h1m2 0h1m3 0h3m1 0h1m2 0h8m2 0h3m1 0h5m1 0h2m1 0h54m1 0h4m1 0h10m2 0h5m2 0h1m7 0h1m5 0h1M437 161.5h1m8 0h1m7 0h3m2 0h2m3 0h1m1 0h1m4 0h1m5 0h2m3 0h4m2 0h1m1 0h1m1 0h2m1 0h1m1 0h6m1 0h1m2 0h6m1 0h3m3 0h5m1 0h5m1 0h12m1 0h1m1 0h4m2 0h16m1 0h14m2 0h2m1 0h7m1 0h1m1 0h2m1 0h10m1 0h1m7 0h3M436 162.5h1m10 0h2m1 0h2m12 0h1m2 0h2m1 0h1m1 0h1m3 0h4m2 0h1m1 0h2m2 0h1m1 0h1m1 0h3m2 0h6m1 0h2m1 0h1m2 0h4m1 0h4m1 0h2m1 0h7m1 0h6m1 0h7m1 0h13m1 0h13m1 0h11m1 0h9m2 0h1m1 0h3m2 0h1m1 0h2m1 0h1m3 0h2m2 0h3m1 0h2M444 163.5h1m10 0h1m4 0h1m1 0h1m1 0h1m3 0h1m2 0h1m1 0h1m1 0h1m2 0h5m2 0h3m1 0h2m1 0h2m1 0h2m3 0h1m1 0h1m2 0h3m1 0h2m1 0h1m1 0h9m1 0h5m1 0h1m1 0h1m1 0h5m1 0h6m1 0h7m2 0h9m1 0h1m2 0h11m1 0h2m1 0h6m1 0h1m1 0h11m1 0h6m3 0h1m1 0h1M443 164.5h1m7 0h1m5 0h1m1 0h4m1 0h4m1 0h3m3 0h1m4 0h1m1 0h1m5 0h4m4 0h3m1 0h4m1 0h3m1 0h1m1 0h2m1 0h1m2 0h1m1 0h1m1 0h5m1 0h1m1 0h8m2 0h16m2 0h2m1 0h22m1 0h6m1 0h2m1 0h6m1 0h3m1 0h3m3 0h2m5 0h1m6 0h1M440 165.5h1m8 0h2m8 0h1m6 0h3m1 0h1m3 0h3m2 0h1m1 0h1m2 0h1m1 0h1m1 0h1m1 0h4m1 0h3m1 0h8m1 0h4m4 0h2m4 0h1m2 0h14m1 0h1m2 0h12m1 0h5m1 0h3m1 0h16m1 0h10m1 0h3m1 0h10m1 0h2m2 0h1m1 0h1m5 0h1m1 0h1M450 166.5h1m1 0h1m3 0h1m1 0h3m1 0h1m1 0h4m6 0h3m3 0h1m1 0h1m2 0h3m4 0h6m2 0h2m1 0h2m1 0h3m1 0h4m1 0h3m1 0h1m2 0h6m1 0h4m1 0h36m1 0h2m1 0h2m1 0h27m1 0h5m1 0h1m7 0h1M449 167.5h1m3 0h1m4 0h2m4 0h1m1 0h2m3 0h1m9 0h1m1 0h1m1 0h1m1 0h1m2 0h2m1 0h1m1 0h1m1 0h1m1 0h2m2 0h1m2 0h2m1 0h1m1 0h3m1 0h3m1 0h4m2 0h1m1 0h1m1 0h1m1 0h6m1 0h9m1 0h5m1 0h1m1 0h2m1 0h4m1 0h12m1 0h1m1 0h2m1 0h6m1 0h7m1 0h9m1 0h2m2 0h1m2 0h1m2 0h1m1 0h2m1 0h1m19 0h1M441 168.5h1m5 0h2m1 0h1m2 0h1m2 0h1m1 0h3m1 0h1m2 0h1m3 0h1m1 0h1m2 0h6m1 0h1m1 0h1m1 0h2m1 0h3m1 0h4m1 0h1m1 0h6m1 0h17m1 0h2m2 0h2m1 0h2m2 0h1m1 0h17m1 0h5m1 0h1m1 0h2m1 0h2m1 0h19m1 0h13m1 0h2m1 0h3m1 0h2m8 0h1m31 0h1M452 169.5h1m6 0h1m3 0h3m4 0h1m1 0h1m6 0h2m3 0h2m1 0h2m1 0h1m1 0h1m1 0h3m1 0h2m1 0h2m1 0h3m1 0h1m1 0h1m1 0h9m3 0h3m1 0h1m1 0h3m1 0h4m1 0h6m2 0h5m1 0h3m1 0h17m1 0h3m2 0h5m1 0h2m1 0h4m1 0h4m1 0h3m1 0h3m1 0h4m5 0h2m4 0h2m5 0h1M447 170.5h2m2 0h1m2 0h2m3 0h1m4 0h2m2 0h2m7 0h6m1 0h3m1 0h1m1 0h2m2 0h2m2 0h4m1 0h4m1 0h9m1 0h13m1 0h1m2 0h20m1 0h6m1 0h6m1 0h10m1 0h9m1 0h14m3 0h2m2 0h4m2 0h1m7 0h1m3 0h2M444 171.5h1m8 0h1m4 0h1m4 0h2m9 0h1m2 0h1m3 0h2m1 0h2m1 0h1m2 0h2m1 0h2m1 0h8m1 0h1m3 0h5m1 0h3m1 0h10m2 0h6m2 0h15m1 0h2m1 0h11m1 0h11m1 0h1m1 0h7m3 0h3m1 0h2m1 0h1m2 0h2m3 0h1m1 0h1m5 0h1m7 0h1M448 172.5h1m7 0h1m1 0h1m4 0h1m1 0h4m1 0h2m2 0h2m1 0h1m1 0h1m2 0h2m1 0h9m2 0h1m1 0h1m1 0h1m1 0h1m1 0h5m1 0h1m1 0h1m1 0h1m1 0h3m1 0h1m1 0h2m1 0h1m1 0h1m1 0h2m1 0h3m2 0h3m1 0h12m1 0h13m1 0h14m1 0h14m1 0h5m1 0h1m2 0h2m1 0h2m1 0h3m5 0h1M443 173.5h1m2 0h1m2 0h2m10 0h1m1 0h2m2 0h1m5 0h2m2 0h1m1 0h2m1 0h3m1 0h3m4 0h2m1 0h7m2 0h5m1 0h2m1 0h3m1 0h14m1 0h2m1 0h2m1 0h9m2 0h49m1 0h6m1 0h2m1 0h1m2 0h1m1 0h1m4 0h1m4 0h1M441 174.5h1m4 0h1m3 0h1m1 0h2m2 0h2m1 0h3m1 0h1m5 0h1m1 0h2m4 0h1m2 0h4m3 0h3m1 0h1m1 0h7m1 0h4m1 0h10m2 0h6m1 0h7m2 0h10m1 0h3m1 0h5m1 0h15m1 0h29m1 0h1m1 0h2m3 0h4m3 0h1m5 0h1m7 0h2m6 0h2m2 0h1M450 175.5h1m1 0h1m1 0h1m3 0h3m2 0h1m1 0h1m5 0h4m3 0h3m1 0h1m1 0h1m1 0h1m1 0h1m1 0h2m1 0h1m1 0h5m1 0h13m2 0h5m1 0h14m1 0h8m1 0h7m1 0h29m1 0h2m1 0h9m2 0h2m3 0h5m1 0h1m2 0h1m1 0h1m4 0h1m3 0h1m1 0h2m13 0h1M439 176.5h2m2 0h2m1 0h2m1 0h1m2 0h1m1 0h1m1 0h1m3 0h1m6 0h1m7 0h3m3 0h1m1 0h2m2 0h3m2 0h1m2 0h2m1 0h2m2 0h1m1 0h1m1 0h1m2 0h5m1 0h4m2 0h9m1 0h1m1 0h34m1 0h13m1 0h2m1 0h14m1 0h3m1 0h4m1 0h2m5 0h1m4 0h2m6 0h1m13 0h1M440 177.5h2m4 0h1m2 0h1m2 0h1m1 0h1m2 0h3m1 0h1m2 0h2m4 0h1m1 0h1m1 0h1m1 0h4m1 0h5m1 0h2m2 0h9m4 0h2m2 0h2m2 0h3m1 0h1m1 0h3m3 0h13m2 0h2m1 0h1m1 0h10m1 0h3m1 0h8m1 0h2m1 0h15m1 0h5m1 0h4m1 0h6m1 0h2m1 0h3m7 0h1m2 0h1m1 0h1m2 0h1m7 0h1M437 178.5h1m17 0h1m2 0h2m2 0h2m1 0h2m1 0h4m1 0h2m1 0h2m1 0h1m1 0h1m2 0h1m1 0h1m2 0h3m1 0h1m3 0h4m3 0h14m2 0h2m1 0h2m1 0h3m1 0h7m1 0h6m1 0h1m1 0h5m1 0h5m1 0h2m1 0h1m1 0h2m2 0h4m1 0h7m1 0h5m1 0h14m1 0h4m1 0h5m5 0h1m3 0h1m3 0h1m7 0h1M438 179.5h1m1 0h1m7 0h1m4 0h1m2 0h2m1 0h1m2 0h1m2 0h3m4 0h1m4 0h2m1 0h1m3 0h2m2 0h2m1 0h1m1 0h1m1 0h3m1 0h10m1 0h8m1 0h8m1 0h4m2 0h11m2 0h5m1 0h9m1 0h3m2 0h10m1 0h6m1 0h17m1 0h4m3 0h1m2 0h1m8 0h1m1 0h2M435 180.5h1m2 0h1m1 0h1m4 0h1m2 0h3m3 0h2m1 0h1m3 0h5m2 0h3m1 0h9m2 0h2m1 0h4m1 0h3m1 0h2m1 0h10m1 0h3m1 0h5m1 0h1m1 0h1m2 0h2m1 0h2m1 0h18m1 0h5m1 0h15m1 0h2m1 0h2m1 0h4m1 0h4m1 0h9m1 0h10m1 0h2m5 0h2m9 0h1m8 0h1m8 0h1M449 181.5h1m2 0h1m1 0h1m2 0h2m1 0h2m1 0h1m1 0h1m2 0h4m1 0h6m3 0h3m1 0h8m1 0h2m1 0h6m1 0h4m2 0h9m1 0h1m1 0h3m1 0h8m1 0h2m1 0h16m1 0h16m1 0h5m1 0h14m1 0h3m1 0h1m1 0h6m1 0h5m4 0h3m7 0h1m1 0h1M436 182.5h1m10 0h2m4 0h1m1 0h1m1 0h1m4 0h5m1 0h1m2 0h1m1 0h2m1 0h3m1 0h1m1 0h2m1 0h2m1 0h1m1 0h1m1 0h17m2 0h17m1 0h6m3 0h11m1 0h5m1 0h19m1 0h4m1 0h11m2 0h4m1 0h9m2 0h2m1 0h2m3 0h2m2 0h1m3 0h1m3 0h1m9 0h1M433 183.5h1m8 0h1m4 0h5m1 0h2m2 0h1m1 0h2m4 0h2m1 0h1m1 0h1m1 0h2m1 0h1m1 0h1m2 0h6m3 0h16m1 0h1m1 0h4m1 0h2m2 0h1m1 0h1m1 0h1m1 0h3m2 0h1m1 0h2m1 0h2m1 0h8m2 0h1m1 0h1m1 0h35m1 0h16m1 0h1m1 0h1m1 0h4m14 0h1m1 0h1m4 0h1m47 0h1M436 184.5h2m2 0h1m2 0h2m2 0h3m2 0h3m1 0h1m1 0h1m1 0h1m4 0h2m1 0h3m1 0h2m1 0h2m1 0h2m1 0h5m4 0h1m1 0h1m1 0h2m1 0h4m3 0h3m1 0h2m1 0h4m1 0h3m1 0h2m1 0h6m1 0h8m1 0h6m2 0h1m1 0h9m1 0h3m1 0h18m1 0h11m1 0h1m1 0h2m1 0h3m1 0h2m1 0h3m2 0h2m1 0h1m2 0h1m27 0h1m33 0h1M438 185.5h1m1 0h1m1 0h1m8 0h1m2 0h3m5 0h1m2 0h5m1 0h3m2 0h1m1 0h2m1 0h4m1 0h3m1 0h1m2 0h2m2 0h2m1 0h4m1 0h1m5 0h14m1 0h2m2 0h3m1 0h19m1 0h7m1 0h12m1 0h7m1 0h10m1 0h14m1 0h1m1 0h2m1 0h1m1 0h1m4 0h2m23 0h1m10 0h1m10 0h1m4 0h1M442 186.5h1m2 0h1m1 0h2m3 0h1m2 0h2m1 0h1m1 0h2m1 0h6m1 0h3m3 0h2m1 0h2m4 0h1m1 0h1m1 0h2m1 0h5m2 0h17m1 0h4m1 0h1m1 0h5m2 0h56m2 0h9m1 0h1m3 0h4m1 0h3m3 0h1m1 0h1m2 0h1m7 0h2m3 0h1m5 0h1m1 0h1m7 0h1m29 0h1m2 0h1M441 187.5h1m1 0h2m1 0h1m1 0h2m1 0h2m1 0h1m1 0h1m4 0h1m1 0h1m3 0h1m1 0h3m1 0h2m1 0h1m1 0h1m1 0h3m2 0h5m1 0h18m1 0h20m1 0h4m1 0h12m1 0h9m1 0h6m1 0h10m1 0h8m1 0h4m1 0h8m1 0h8m5 0h1m2 0h1m2 0h1m5 0h1m2 0h1m7 0h3m6 0h1m13 0h2m20 0h1M441 188.5h1m6 0h2m2 0h1m3 0h3m3 0h2m1 0h2m1 0h1m1 0h3m1 0h6m1 0h1m2 0h1m1 0h8m1 0h2m1 0h2m1 0h1m1 0h2m1 0h7m1 0h1m1 0h13m1 0h3m1 0h8m1 0h6m1 0h4m1 0h3m1 0h6m1 0h13m1 0h4m1 0h7m1 0h1m1 0h4m2 0h1m3 0h1m1 0h1m1 0h2m1 0h2m3 0h1m1 0h1m13 0h1m15 0h1m4 0h1m16 0h1m8 0h1M433 189.5h1m3 0h1m3 0h1m4 0h1m3 0h1m1 0h2m1 0h1m1 0h1m2 0h5m1 0h5m3 0h1m1 0h1m1 0h6m1 0h8m1 0h1m3 0h6m1 0h32m1 0h18m1 0h5m1 0h2m1 0h38m1 0h1m1 0h2m1 0h1m3 0h2m1 0h1m2 0h3m7 0h1m4 0h1m9 0h1m6 0h1m13 0h2m10 0h2M434 190.5h1m2 0h1m9 0h2m1 0h3m3 0h2m1 0h8m1 0h1m1 0h2m1 0h6m2 0h1m1 0h3m1 0h1m1 0h3m2 0h4m1 0h13m1 0h3m1 0h4m1 0h17m1 0h23m1 0h3m1 0h1m1 0h3m2 0h2m1 0h2m1 0h9m1 0h2m1 0h6m1 0h3m1 0h1m1 0h4m3 0h1m5 0h1m7 0h3m2 0h1m5 0h1m26 0h1m4 0h1m5 0h2M436 191.5h1m5 0h1m1 0h2m4 0h1m1 0h4m3 0h5m1 0h1m1 0h13m1 0h8m1 0h4m1 0h9m1 0h2m1 0h8m1 0h11m1 0h2m1 0h10m1 0h6m2 0h2m1 0h7m1 0h12m1 0h3m1 0h9m1 0h7m2 0h2m1 0h1m1 0h1m3 0h2m2 0h3m1 0h3m4 0h2m1 0h2m2 0h1m1 0h2m6 0h1m7 0h1m1 0h1m12 0h1m1 0h1m3 0h1m5 0h6M436 192.5h1m4 0h2m3 0h1m1 0h4m2 0h1m1 0h2m2 0h1m1 0h3m1 0h4m1 0h1m1 0h3m1 0h9m1 0h8m1 0h4m1 0h2m1 0h1m1 0h11m1 0h1m2 0h9m1 0h6m1 0h1m2 0h44m2 0h2m1 0h4m1 0h1m1 0h1m1 0h5m1 0h1m3 0h1m1 0h4m1 0h1m1 0h1m4 0h1m3 0h1m9 0h1m1 0h2m31 0h1m3 0h2M439 193.5h2m5 0h3m1 0h3m1 0h11m2 0h4m1 0h2m2 0h2m1 0h1m2 0h5m1 0h6m1 0h6m1 0h20m1 0h2m1 0h2m1 0h14m2 0h12m1 0h10m1 0h11m1 0h6m1 0h3m1 0h7m1 0h5m1 0h1m1 0h2m3 0h2m1 0h4m1 0h6m1 0h1m3 0h1m7 0h1m4 0h1m7 0h2m19 0h4M436 194.5h1m2 0h1m3 0h1m2 0h3m3 0h10m1 0h2m2 0h9m1 0h2m1 0h3m1 0h12m1 0h9m1 0h12m1 0h11m1 0h8m1 0h3m1 0h19m1 0h5m1 0h5m1 0h4m1 0h3m1 0h1m1 0h1m1 0h11m4 0h2m2 0h7m1 0h1m1 0h2m1 0h1m2 0h1m1 0h1m5 0h1m1 0h2m3 0h1m1 0h2m10 0h2m6 0h2m4 0h2m2 0h3M431 195.5h1m2 0h1m4 0h1m1 0h2m2 0h1m1 0h1m1 0h1m1 0h7m1 0h4m1 0h3m1 0h16m1 0h8m1 0h18m1 0h9m1 0h25m2 0h25m1 0h1m1 0h11m1 0h9m3 0h3m1 0h4m1 0h2m1 0h1m7 0h4m1 0h1m1 0h1m3 0h1m1 0h1m17 0h1m4 0h1m10 0h1m2 0h3m1 0h2m2 0h1M437 196.5h16m1 0h15m1 0h7m1 0h3m1 0h11m1 0h18m1 0h4m1 0h31m1 0h12m1 0h29m2 0h5m2 0h2m2 0h2m1 0h1m1 0h1m1 0h1m1 0h3m1 0h1m3 0h1m1 0h2m9 0h1m2 0h2m1 0h1m4 0h1m2 0h3m7 0h1m1 0h2m1 0h2m1 0h1m2 0h3m3 0h1m2 0h1M431 197.5h1m1 0h1m2 0h1m1 0h10m1 0h17m1 0h6m1 0h5m1 0h4m1 0h5m1 0h15m1 0h18m1 0h10m1 0h2m1 0h20m1 0h2m1 0h9m1 0h3m1 0h1m1 0h10m1 0h1m1 0h1m1 0h12m1 0h4m1 0h1m2 0h1m2 0h1m2 0h1m9 0h2m2 0h2m4 0h1m1 0h3m10 0h1m3 0h2m2 0h3m5 0h1m2 0h1M434 198.5h3m1 0h1m1 0h16m1 0h7m1 0h3m1 0h12m1 0h13m1 0h6m1 0h9m1 0h32m1 0h27m1 0h6m1 0h11m1 0h8m1 0h6m1 0h4m2 0h3m1 0h1m3 0h2m1 0h1m3 0h1m1 0h2m3 0h1m6 0h3m3 0h1m1 0h1m1 0h1m4 0h4m3 0h1m3 0h2M431 199.5h5m5 0h1m1 0h1m1 0h7m1 0h21m1 0h14m1 0h24m2 0h31m1 0h8m1 0h11m1 0h7m1 0h6m1 0h5m1 0h5m1 0h5m1 0h9m1 0h6m3 0h2m8 0h1m4 0h1m1 0h2m1 0h1m1 0h3m3 0h1m1 0h1m1 0h2m10 0h1m2 0h3m1 0h1m2 0h4M431 200.5h1m2 0h2m2 0h60m1 0h3m1 0h4m1 0h6m1 0h46m1 0h4m1 0h3m1 0h2m3 0h2m1 0h30m1 0h4m2 0h1m1 0h1m2 0h1m1 0h1m2 0h3m2 0h5m1 0h1m2 0h1m2 0h1m3 0h8m1 0h3m1 0h1m2 0h2m1 0h1m1 0h2m1 0h2m2 0h1m1 0h1M430 201.5h1m1 0h4m1 0h1m1 0h1m1 0h46m1 0h20m1 0h12m1 0h55m2 0h8m2 0h2m1 0h3m1 0h11m1 0h1m1 0h3m1 0h3m1 0h4m1 0h6m2 0h1m2 0h7m1 0h2m1 0h1m4 0h1m5 0h1m1 0h2m3 0h3m3 0h2m1 0h1m1 0h1m1 0h1M428 202.5h1m3 0h66m1 0h24m1 0h21m1 0h6m1 0h31m1 0h6m1 0h11m2 0h6m1 0h11m1 0h4m1 0h2m2 0h3m1 0h10m1 0h2m1 0h1m1 0h3m1 0h1m1 0h1m1 0h1m2 0h1m4 0h1m2 0h3m1 0h1M426 203.5h1m1 0h3m2 0h51m1 0h33m1 0h14m1 0h12m1 0h28m1 0h18m1 0h20m2 0h4m1 0h2m1 0h11m1 0h2m1 0h6m3 0h2m2 0h3m8 0h7m1 0h3M427 204.5h1m1 0h1m2 0h74m1 0h4m1 0h1m1 0h69m1 0h1m1 0h12m1 0h2m1 0h3m1 0h2m2 0h11m1 0h5m1 0h2m3 0h2m1 0h1m1 0h1m1 0h7m1 0h4m1 0h5m1 0h2m1 0h2m1 0h1m1 0h4m1 0h1m2 0h1M429 205.5h105m1 0h22m1 0h14m1 0h8m1 0h5m1 0h12m2 0h2m1 0h14m1 0h3m1 0h5m2 0h2m1 0h1m2 0h2m1 0h9m1 0h5m1 0h1m1 0h1m2 0h3m1 0h5m2 0h1m1 0h1m2 0h1M428 206.5h82m1 0h1m1 0h13m1 0h9m1 0h6m1 0h26m1 0h12m1 0h5m1 0h7m1 0h9m1 0h1m1 0h6m1 0h10m1 0h1m1 0h1m1 0h1m1 0h7m1 0h5m1 0h7m1 0h5m1 0h1m1 0h1m3 0h2m1 0h2M426 207.5h117m1 0h18m1 0h20m1 0h13m1 0h1m1 0h41m4 0h18m4 0h7M427 208.5h83m2 0h38m1 0h23m1 0h25m2 0h11m1 0h4m1 0h11m1 0h4m1 0h7m2 0h5m1 0h2m1 0h3m1 0h1m1 0h2m1 0h4m1 0h1m2 0h1M423 209.5h1m1 0h80m1 0h28m1 0h9m1 0h24m1 0h16m2 0h9m1 0h12m1 0h3m1 0h5m2 0h29m1 0h5m1 0h4m3 0h1m1 0h3m2 0h2M424 210.5h71m1 0h8m1 0h20m1 0h2m1 0h23m1 0h3m1 0h7m1 0h19m1 0h15m1 0h18m1 0h26m1 0h1m1 0h3m1 0h8m1 0h1m2 0h3m1 0h3m4 0h1M423 211.5h1m2 0h88m1 0h3m1 0h34m1 0h4m1 0h8m1 0h17m1 0h5m1 0h28m1 0h8m1 0h24m1 0h2m1 0h4m1 0h5m3 0h1M423 212.5h94m1 0h34m2 0h15m1 0h2m1 0h13m1 0h1m1 0h6m1 0h5m1 0h2m2 0h16m1 0h17m1 0h3m1 0h10m1 0h2m2 0h4m1 0h1m2 0h1m1 0h1m1 0h2M425 213.5h94m1 0h1m1 0h3m1 0h4m1 0h21m1 0h49m1 0h1m2 0h1m1 0h22m2 0h8m1 0h6m1 0h2m1 0h7m1 0h5m1 0h1M423 214.5h76m1 0h41m1 0h3m1 0h9m1 0h9m1 0h17m1 0h16m1 0h25m1 0h13m1 0h2m1 0h4m1 0h1m1 0h3m1 0h2m2 0h7m1 0h1m6 0h1M423 215.5h2m1 0h80m1 0h62m1 0h17m1 0h9m1 0h19m3 0h2m1 0h20m1 0h1m1 0h20m1 0h1M424 216.5h105m1 0h14m1 0h16m1 0h7m1 0h15m1 0h9m1 0h34m1 0h5m1 0h7m1 0h5m1 0h8m1 0h8m4 0h2M423 217.5h1m1 0h1m1 0h91m1 0h10m1 0h22m1 0h11m1 0h4m1 0h4m2 0h2m3 0h4m1 0h39m1 0h6m2 0h9m3 0h3m1 0h4m1 0h2m1 0h4m1 0h2m1 0h1m2 0h1M425 218.5h1m1 0h76m1 0h3m1 0h18m1 0h1m1 0h18m1 0h14m2 0h5m1 0h15m1 0h3m1 0h6m1 0h19m1 0h6m1 0h22m1 0h2m1 0h6m1 0h5m3 0h1m2 0h1M424 219.5h1m2 0h1m1 0h72m1 0h12m1 0h13m1 0h24m1 0h10m1 0h7m1 0h14m1 0h14m1 0h6m2 0h2m1 0h6m1 0h7m1 0h3m1 0h2m1 0h5m1 0h4m1 0h7m1 0h1m3 0h2m1 0h3m1 0h1m6 0h1M427 220.5h2m1 0h2m1 0h73m1 0h20m1 0h27m1 0h6m1 0h1m2 0h3m1 0h2m1 0h12m1 0h5m1 0h3m1 0h1m1 0h6m1 0h14m1 0h1m1 0h16m1 0h11m1 0h4m2 0h1m1 0h1M429 221.5h7m2 0h3m1 0h48m1 0h28m1 0h4m1 0h9m1 0h18m2 0h9m1 0h1m1 0h12m2 0h3m1 0h6m1 0h1m1 0h2m1 0h2m1 0h18m2 0h14m1 0h2m1 0h4m2 0h3m1 0h9m2 0h2m1 0h4m1 0h1m2 0h1M430 222.5h1m1 0h4m1 0h54m1 0h17m1 0h25m1 0h15m1 0h6m1 0h1m1 0h4m1 0h13m1 0h22m1 0h7m1 0h3m1 0h18m2 0h6m5 0h2m1 0h5m1 0h3m1 0h2m2 0h2m1 0h1M431 223.5h14m1 0h36m1 0h18m1 0h6m1 0h8m1 0h1m1 0h1m1 0h7m1 0h3m1 0h8m1 0h25m1 0h2m1 0h3m2 0h10m1 0h10m1 0h1m1 0h7m1 0h3m1 0h1m1 0h21m3 0h2m1 0h1m1 0h2m1 0h1m3 0h3m2 0h2m9 0h1M429 224.5h1m1 0h2m2 0h1m1 0h5m1 0h2m1 0h42m1 0h13m1 0h4m1 0h42m1 0h4m1 0h8m1 0h5m1 0h12m1 0h22m1 0h2m1 0h1m1 0h1m1 0h1m1 0h1m1 0h15m1 0h1m1 0h1m3 0h3m1 0h1m6 0h1m1 0h1m2 0h1m1 0h1m1 0h2m1 0h1M432 225.5h2m3 0h8m2 0h4m1 0h4m1 0h15m1 0h42m1 0h2m2 0h3m1 0h5m1 0h3m1 0h15m1 0h14m1 0h7m1 0h3m2 0h3m1 0h1m1 0h8m1 0h1m1 0h1m1 0h14m1 0h2m1 0h9m2 0h1m1 0h3m1 0h7m1 0h1m3 0h2m2 0h3m2 0h1m1 0h2M433 226.5h1m1 0h2m1 0h44m1 0h5m1 0h5m1 0h4m1 0h1m1 0h6m1 0h7m1 0h5m1 0h3m1 0h2m1 0h10m2 0h5m1 0h6m1 0h6m1 0h2m3 0h14m1 0h2m3 0h22m1 0h6m1 0h6m1 0h2m1 0h3m1 0h2m3 0h2m2 0h2m1 0h2m2 0h1m2 0h1m7 0h1M432 227.5h1m3 0h1m4 0h8m2 0h2m1 0h10m1 0h47m1 0h13m1 0h5m1 0h13m1 0h4m2 0h13m1 0h4m1 0h14m1 0h11m1 0h10m2 0h2m2 0h3m2 0h5m1 0h1m1 0h6m3 0h3m1 0h1m4 0h5m1 0h1m2 0h1m2 0h1M430 228.5h1m3 0h1m4 0h1m1 0h1m3 0h1m1 0h1m1 0h3m1 0h1m1 0h1m1 0h13m1 0h26m1 0h34m1 0h5m1 0h7m1 0h1m1 0h4m1 0h10m1 0h6m1 0h3m1 0h1m1 0h17m2 0h1m1 0h4m2 0h9m2 0h2m4 0h1m1 0h8m1 0h2m1 0h6m2 0h1m1 0h1m2 0h1m3 0h2m2 0h2m2 0h1M435 229.5h2m3 0h7m2 0h5m2 0h6m1 0h15m1 0h3m2 0h5m1 0h14m1 0h8m1 0h9m1 0h5m1 0h2m2 0h2m1 0h1m1 0h1m3 0h1m1 0h4m1 0h4m3 0h15m1 0h1m1 0h4m1 0h3m1 0h2m1 0h6m1 0h7m1 0h1m2 0h3m3 0h1m1 0h1m1 0h1m1 0h2m1 0h5m3 0h1m2 0h2m3 0h2m1 0h1m1 0h1m6 0h1m2 0h2m9 0h1M436 230.5h4m1 0h1m2 0h1m1 0h5m2 0h13m1 0h7m1 0h18m1 0h4m1 0h12m1 0h23m2 0h3m1 0h5m1 0h1m1 0h3m1 0h9m2 0h4m1 0h5m1 0h1m1 0h17m1 0h1m1 0h1m1 0h6m1 0h1m1 0h2m2 0h2m1 0h1m2 0h1m1 0h3m2 0h1m1 0h1m2 0h1m2 0h1m3 0h2m2 0h2m2 0h1m2 0h3m2 0h2m1 0h2m1 0h1m7 0h1M432 231.5h1m11 0h1m1 0h2m1 0h1m2 0h3m3 0h1m1 0h3m1 0h6m1 0h8m1 0h7m1 0h1m1 0h13m3 0h3m1 0h6m1 0h1m3 0h1m1 0h3m1 0h5m1 0h2m1 0h4m2 0h6m2 0h7m2 0h8m1 0h1m1 0h3m1 0h5m1 0h6m1 0h2m1 0h5m1 0h3m1 0h6m1 0h3m2 0h5m1 0h4m1 0h3m2 0h1m1 0h1m2 0h1m7 0h3m2 0h3m3 0h2m2 0h1m2 0h1M433 232.5h1m3 0h1m2 0h1m1 0h1m1 0h2m1 0h1m2 0h3m1 0h1m1 0h1m1 0h1m2 0h3m1 0h4m1 0h2m1 0h5m1 0h12m1 0h7m1 0h3m2 0h4m1 0h15m2 0h2m1 0h1m1 0h1m2 0h3m1 0h4m1 0h7m1 0h5m1 0h4m1 0h12m1 0h2m1 0h5m1 0h1m1 0h5m1 0h2m1 0h3m2 0h2m1 0h4m1 0h1m3 0h2m1 0h4m3 0h2m3 0h1m1 0h3m1 0h1m6 0h1m1 0h1m2 0h1m1 0h1m14 0h1M439 233.5h1m1 0h3m1 0h2m2 0h4m1 0h2m1 0h2m1 0h1m4 0h1m1 0h6m2 0h5m2 0h2m1 0h9m1 0h3m2 0h1m2 0h1m1 0h3m1 0h12m1 0h2m1 0h6m1 0h3m2 0h1m1 0h12m2 0h2m2 0h1m1 0h18m1 0h5m1 0h3m2 0h11m1 0h5m2 0h1m2 0h2m3 0h1m1 0h1m1 0h2m1 0h1m1 0h2m1 0h1m1 0h1m1 0h6m1 0h2m4 0h1m9 0h1m5 0h1M435 234.5h1m3 0h1m6 0h2m3 0h3m2 0h1m4 0h1m1 0h4m1 0h17m1 0h2m1 0h3m1 0h1m2 0h2m1 0h5m1 0h7m2 0h1m1 0h6m3 0h1m1 0h4m1 0h1m2 0h1m1 0h1m1 0h1m1 0h2m1 0h13m1 0h6m2 0h1m1 0h2m1 0h3m1 0h1m1 0h1m2 0h2m2 0h6m2 0h3m1 0h1m1 0h5m2 0h1m1 0h1m3 0h1m3 0h1m2 0h1m1 0h1m1 0h4m1 0h1m2 0h2m2 0h1m2 0h1m2 0h1m3 0h2m6 0h1m6 0h2M453 235.5h1m1 0h1m2 0h1m2 0h2m3 0h1m1 0h1m1 0h1m1 0h8m1 0h17m2 0h5m3 0h7m1 0h2m2 0h3m1 0h3m1 0h1m1 0h4m3 0h1m1 0h1m1 0h6m2 0h3m1 0h2m1 0h1m1 0h3m1 0h5m1 0h5m2 0h1m2 0h2m1 0h4m1 0h1m1 0h2m3 0h1m2 0h1m1 0h1m1 0h4m2 0h3m7 0h1m1 0h2m1 0h1m4 0h1m4 0h1m1 0h1M437 236.5h1m2 0h2m1 0h1m3 0h3m3 0h1m2 0h3m1 0h5m1 0h2m1 0h4m1 0h4m1 0h2m1 0h4m1 0h2m1 0h1m2 0h1m1 0h3m1 0h3m1 0h1m1 0h1m1 0h2m2 0h11m1 0h1m1 0h1m1 0h1m1 0h1m1 0h1m2 0h11m1 0h2m2 0h6m1 0h1m1 0h2m2 0h1m2 0h2m1 0h2m4 0h5m1 0h3m1 0h1m1 0h2m1 0h2m1 0h5m1 0h3m2 0h1m4 0h1m1 0h2m1 0h3m2 0h2m2 0h1m2 0h1M448 237.5h1m4 0h1m2 0h2m1 0h1m3 0h7m2 0h1m1 0h4m1 0h1m3 0h2m1 0h3m1 0h1m4 0h2m1 0h2m1 0h3m4 0h1m1 0h1m1 0h1m1 0h10m1 0h2m2 0h2m2 0h3m1 0h2m2 0h4m1 0h4m1 0h4m1 0h1m1 0h1m2 0h3m1 0h1m2 0h1m3 0h2m1 0h1m3 0h1m2 0h3m3 0h2m2 0h1m1 0h3m2 0h1m4 0h6m7 0h1m1 0h2m1 0h1m5 0h2m1 0h1m4 0h1m4 0h1M454 238.5h1m2 0h1m15 0h1m2 0h4m1 0h13m1 0h1m1 0h2m6 0h3m1 0h4m1 0h1m1 0h2m1 0h1m1 0h4m2 0h2m1 0h2m3 0h3m1 0h1m1 0h1m2 0h1m1 0h7m1 0h3m1 0h1m1 0h3m1 0h1m1 0h2m2 0h5m2 0h1m1 0h2m2 0h1m1 0h1m1 0h3m2 0h3m1 0h1m7 0h2m3 0h2m2 0h2m2 0h1m14 0h3M446 239.5h1m1 0h1m5 0h2m1 0h1m6 0h2m5 0h2m2 0h1m1 0h4m2 0h7m3 0h2m2 0h7m3 0h1m1 0h4m1 0h1m1 0h1m1 0h6m4 0h1m1 0h2m1 0h1m1 0h4m2 0h2m1 0h1m3 0h6m1 0h1m1 0h1m4 0h4m1 0h2m7 0h2m2 0h4m3 0h1m3 0h1m1 0h1m5 0h1m1 0h1m5 0h1m2 0h1m1 0h1m6 0h1m2 0h1m2 0h1m9 0h1m4 0h1m14 0h1M445 240.5h1m5 0h2m2 0h2m9 0h1m2 0h1m1 0h1m1 0h3m1 0h1m4 0h2m2 0h5m3 0h2m1 0h1m1 0h3m3 0h6m1 0h4m2 0h2m1 0h2m2 0h1m1 0h1m2 0h3m2 0h1m1 0h2m1 0h2m3 0h1m1 0h4m1 0h2m1 0h3m2 0h1m1 0h1m1 0h1m2 0h2m1 0h1m3 0h1m1 0h1m1 0h7m1 0h1m1 0h1m3 0h1m3 0h1m1 0h1m2 0h1m2 0h1m6 0h1m7 0h1m2 0h1M440 241.5h1m15 0h1m12 0h1m3 0h2m2 0h2m2 0h5m3 0h5m1 0h2m1 0h1m1 0h5m1 0h2m2 0h1m1 0h1m1 0h1m2 0h1m2 0h1m2 0h3m3 0h5m1 0h2m1 0h2m2 0h1m2 0h2m2 0h1m2 0h2m3 0h2m3 0h2m1 0h2m4 0h1m8 0h1m2 0h1m1 0h5m2 0h4m1 0h1m5 0h1m1 0h2m3 0h2m1 0h5m3 0h1m16 0h1M451 242.5h1m10 0h2m4 0h1m6 0h1m1 0h1m8 0h2m1 0h5m1 0h3m1 0h1m2 0h1m2 0h1m1 0h1m2 0h4m1 0h3m1 0h1m2 0h3m2 0h1m3 0h1m1 0h2m1 0h1m2 0h2m3 0h3m1 0h4m2 0h1m1 0h2m3 0h1m7 0h1m1 0h1m1 0h1m1 0h4m1 0h2m3 0h2m1 0h1m4 0h1m3 0h1m2 0h2m1 0h2m4 0h1m10 0h2m6 0h1m7 0h1m4 0h1M456 243.5h1m3 0h1m3 0h1m5 0h1m1 0h4m3 0h2m3 0h1m2 0h1m3 0h1m1 0h1m3 0h4m2 0h1m5 0h1m4 0h2m2 0h2m2 0h2m1 0h2m1 0h2m3 0h2m2 0h2m2 0h1m1 0h1m4 0h1m2 0h2m1 0h5m1 0h2m4 0h1m1 0h1m1 0h3m4 0h1m4 0h2m1 0h3m2 0h1m1 0h1m1 0h1m7 0h1m2 0h1m3 0h1m1 0h1m19 0h1M460 244.5h1m1 0h1m6 0h1m1 0h1m6 0h1m1 0h1m2 0h2m3 0h1m4 0h4m3 0h2m4 0h7m2 0h1m3 0h2m8 0h2m1 0h2m3 0h2m3 0h2m1 0h4m1 0h1m1 0h3m1 0h2m6 0h1m1 0h1m4 0h1m2 0h1m4 0h2m6 0h1m2 0h1m6 0h1m1 0h1m6 0h1m20 0h1M450 245.5h1m14 0h1m2 0h1m3 0h2m1 0h1m3 0h3m1 0h1m6 0h1m2 0h4m1 0h1m2 0h1m4 0h1m2 0h1m3 0h1m1 0h4m5 0h1m4 0h3m1 0h4m2 0h1m7 0h1m2 0h6m1 0h2m1 0h1m1 0h3m1 0h1m2 0h1m2 0h3m1 0h3m1 0h1m2 0h2m4 0h2m5 0h1m1 0h1m4 0h1m2 0h1m15 0h1m14 0h1m7 0h1m2 0h1M461 246.5h1m6 0h1m8 0h1m1 0h1m4 0h1m1 0h1m8 0h1m1 0h3m6 0h1m1 0h1m1 0h1m4 0h1m2 0h1m1 0h1m2 0h1m3 0h3m3 0h1m1 0h5m2 0h3m1 0h4m3 0h1m4 0h2m1 0h1m1 0h1m5 0h1m1 0h1m3 0h1m1 0h1m5 0h2m2 0h1m1 0h1m14 0h1m5 0h2m3 0h1m7 0h1m3 0h1M450 247.5h1m7 0h1m21 0h1m2 0h1m1 0h1m1 0h4m6 0h1m2 0h5m2 0h1m2 0h1m3 0h1m1 0h2m11 0h1m4 0h1m1 0h2m6 0h1m1 0h1m2 0h1m1 0h1m10 0h2m4 0h1m5 0h1m1 0h1m3 0h1m2 0h2m2 0h1m3 0h1m4 0h2m2 0h1m2 0h1m6 0h1m7 0h1m6 0h1M451 248.5h1m30 0h1m1 0h1m8 0h1m1 0h1m2 0h2m4 0h3m1 0h2m4 0h1m3 0h1m1 0h4m4 0h1m6 0h1m1 0h1m3 0h1m2 0h1m1 0h2m3 0h2m3 0h1m5 0h3m1 0h1m1 0h3m7 0h1m7 0h1m3 0h1m1 0h1m1 0h1m4 0h1m12 0h1m3 0h1m16 0h1m18 0h1m6 0h1M466 249.5h1m8 0h1m6 0h1m5 0h2m4 0h1m1 0h1m1 0h1m10 0h1m5 0h4m2 0h2m4 0h2m3 0h3m2 0h1m1 0h1m1 0h1m1 0h1m1 0h1m4 0h2m4 0h1m6 0h1m2 0h1m1 0h1m8 0h2m1 0h2m10 0h1m3 0h1m5 0h1m4 0h1m1 0h2m3 0h1M456 250.5h2m14 0h1m4 0h2m2 0h1m2 0h1m6 0h1m1 0h1m4 0h1m1 0h2m4 0h1m2 0h3m8 0h1m1 0h1m5 0h1m1 0h1m1 0h1m1 0h1m2 0h1m3 0h3m1 0h1m1 0h1m7 0h1m1 0h2m1 0h3m10 0h1m6 0h2m1 0h1m10 0h1m9 0h2m7 0h1M451 251.5h1m16 0h1m9 0h1m1 0h1m8 0h1m8 0h2m3 0h1m1 0h1m13 0h1m4 0h1m1 0h1m7 0h2m2 0h2m2 0h1m7 0h1m1 0h3m1 0h1m2 0h1m4 0h4m1 0h1m1 0h1m7 0h2m4 0h1m1 0h1m1 0h1m3 0h1m1 0h1m5 0h2m1 0h1M450 252.5h1m25 0h1m12 0h1m3 0h2m3 0h1m3 0h1m12 0h2m3 0h1m7 0h1m13 0h2m2 0h1m1 0h3m2 0h1m1 0h2m6 0h1m6 0h1m4 0h1m12 0h1m2 0h1m14 0h1m12 0h1m9 0h1m10 0h1M456 253.5h1m11 0h1m10 0h1m1 0h1m1 0h1m1 0h1m17 0h1m1 0h1m6 0h1m4 0h1m6 0h1m4 0h3m1 0h2m10 0h1m5 0h1m10 0h1m3 0h2m4 0h2m1 0h2m3 0h1m2 0h2m2 0h1m18 0h2m15 0h1M470 254.5h1m15 0h1m15 0h2m1 0h1m1 0h1m6 0h1m3 0h1m3 0h2m9 0h1m10 0h2m1 0h1m2 0h1m1 0h1m3 0h1m1 0h1m10 0h1m13 0h1m3 0h1m9 0h1m2 0h1m10 0h1m9 0h1M482 255.5h1m7 0h1m5 0h1m6 0h1m4 0h1m2 0h1m26 0h1m3 0h1m2 0h1m20 0h1m8 0h1m6 0h1m23 0h1M484 256.5h1m1 0h1m2 0h1m8 0h1m4 0h1m1 0h1m2 0h1m5 0h1m3 0h1m1 0h1m1 0h1m21 0h1m12 0h2m2 0h6m6 0h1m3 0h1m4 0h2m2 0h1m10 0h1M475 257.5h1m22 0h1m14 0h1m19 0h1m5 0h1m6 0h1m1 0h1m2 0h1m2 0h1m3 0h1m1 0h1m6 0h4m3 0h1m9 0h1m7 0h1m8 0h1m9 0h1m3 0h1m2 0h1M466 258.5h1m23 0h1m1 0h1m7 0h1m16 0h1m3 0h1m5 0h1m2 0h1m2 0h1m1 0h1m4 0h1m11 0h1m1 0h1m2 0h1m10 0h1m1 0h2m1 0h1M473 259.5h1m7 0h1m4 0h1m1 0h1m2 0h1m19 0h1m2 0h1m1 0h1m13 0h1m1 0h1m6 0h1m9 0h1m2 0h1m4 0h1m5 0h1m9 0h1m21 0h1m21 0h1M482 260.5h1m2 0h2m2 0h1m27 0h1m4 0h2m13 0h1m2 0h1m5 0h2m11 0h1m1 0h2m8 0h1m19 0h1m1 0h1m20 0h1m7 0h1M509 261.5h1m5 0h1m4 0h1m4 0h2m4 0h1m10 0h1m21 0h2m15 0h1m4 0h1m22 0h1m1 0h1M502 262.5h1m10 0h1m2 0h1m3 0h1m11 0h1m1 0h1m2 0h2m27 0h1m1 0h2m1 0h1m22 0h1m1 0h1m5 0h1M474 263.5h2m12 0h2m6 0h2m4 0h1m3 0h1m8 0h1m8 0h1m24 0h1m10 0h1m9 0h1m4 0h1m6 0h1m2 0h1m7 0h1m3 0h1m6 0h1m3 0h1M491 264.5h2m19 0h1m4 0h2m6 0h1m2 0h1m12 0h1m3 0h1m7 0h1m16 0h1m5 0h1m7 0h1m1 0h2m6 0h1M500 265.5h1m2 0h1m9 0h1m10 0h1m7 0h1m1 0h1m3 0h1m3 0h1m5 0h1m3 0h2m6 0h1m1 0h2m22 0h1M468 266.5h1m36 0h1m8 0h1m4 0h1m13 0h1m14 0h1m7 0h1m20 0h1m12 0h1m1 0h1M485 267.5h1m3 0h1m14 0h1m3 0h2m2 0h1m8 0h1m15 0h1m9 0h1m10 0h1m16 0h1m41 0h1M474 268.5h1m20 0h2m35 0h1m7 0h1M505 269.5h1m31 0h1m24 0h1m12 0h1m20 0h1M524 270.5h1m83 0h1M575 271.5h1M513 272.5h1m8 0h1m20 0h1m13 0h1M509 273.5h1m65 0h1m29 0h1M518 274.5h1M496 275.5h1m45 0h1M523 276.5h1m20 0h1M497 277.5h1m57 0h1M493 278.5h1m56 0h1M542 279.5h1M561 282.5h1M569 283.5h1M503 284.5h1m47 0h1"/>
</g>
<g clip-path="url(#c1)" stroke="#ff0000" stroke-width="1.75" stroke-dasharray="6.92 6.92" fill="none">
<path d="M56.49 335.3L386.07 93.82"/>
<path d="M56.49 329.6L386.07 -8.02"/>
</g>
<g stroke="#000" stroke-width="1.1" fill="none" stroke-linecap="round">
<path d="M115.15 344.73H367.47"/>
<path d="M115.15 344.73v6.89"/>
<path d="M178.23 344.73v6.89"/>
<path d="M241.31 344.73v6.89"/>
<path d="M304.39 344.73v6.89"/>
<path d="M367.47 344.73v6.89"/>
<path d="M56.49 62.4V290.8"/>
<path d="M56.49 290.8h-6.89"/>
<path d="M56.49 233.7h-6.89"/>
<path d="M56.49 176.6h-6.89"/>
<path d="M56.49 119.5h-6.89"/>
<path d="M56.49 62.4h-6.89"/>
<rect x="56.49" y="56.49" width="329.58" height="288.24"/>
</g>
<g font-family="Liberation Sans, sans-serif" font-size="11.5px" fill="#000" text-anchor="middle" opacity="0.999">
<text x="115.15" y="369.53">8</text>
<text x="178.23" y="369.53">10</text>
<text x="241.31" y="369.53">12</text>
<text x="304.39" y="369.53">14</text>
<text x="367.47" y="369.53">16</text>
<text x="221.28" y="397.09">x</text>
<text transform="translate(39.96 290.8) rotate(-90)">8</text>
<text transform="translate(39.96 233.7) rotate(-90)">10</text>
<text transform="translate(39.96 176.6) rotate(-90)">12</text>
<text transform="translate(39.96 119.5) rotate(-90)">14</text>
<text transform="translate(39.96 62.4) rotate(-90)">16</text>
<text transform="translate(12.4 200.61) rotate(-90)">y</text>
</g>
<g clip-path="url(#c2)" fill="none">
<path d="M471.49 222.6L801.07 200.05" stroke="#000" stroke-width="1.1"/>
<path d="M471.49 239.35L801.07 133.1" stroke="#ff0000" stroke-width="1.75" stroke-dasharray="6.92 6.92"/>
<path d="M471.49 239.35L801.07 123.21" stroke="#0000ff" stroke-width="2.9" stroke-dasharray="0.01 10.37" stroke-linecap="round"/>
</g>
<g stroke="#000" stroke-width="1.1" fill="none" stroke-linecap="round">
<path d="M530.15 344.73H782.47"/>
<path d="M530.15 344.73v6.89"/>
<path d="M593.23 344.73v6.89"/>
<path d="M656.31 344.73v6.89"/>
<path d="M719.39 344.73v6.89"/>
<path d="M782.47 344.73v6.89"/>
<path d="M471.49 118.5V309.48"/>
<path d="M471.49 309.48h-6.89"/>
<path d="M471.49 245.82h-6.89"/>
<path d="M471.49 182.16h-6.89"/>
<path d="M471.49 118.5h-6.89"/>
<rect x="471.49" y="56.49" width="329.58" height="288.24"/>
</g>
<g font-family="Liberation Sans, sans-serif" font-size="11.5px" fill="#000" text-anchor="middle" opacity="0.999">
<text x="530.15" y="369.53">8</text>
<text x="593.23" y="369.53">10</text>
<text x="656.31" y="369.53">12</text>
<text x="719.39" y="369.53">14</text>
<text x="782.47" y="369.53">16</text>
<text x="636.28" y="397.09">x</text>
<text transform="translate(454.96 309.48) rotate(-90)">−2</text>
<text transform="translate(454.96 245.82) rotate(-90)">0</text>
<text transform="translate(454.96 182.16) rotate(-90)">2</text>
<text transform="translate(454.96 118.5) rotate(-90)">4</text>
<text transform="translate(427.4 200.61) rotate(-90)">y</text>
</g>
<g clip-path="url(#c3)" fill="none" stroke-linejoin="round">
<path d="M68.7 749.05L69.46 749.05L70.22 749.05L70.99 749.05L71.75 749.05L72.51 749.04L73.27 749.04L74.04 749.04L74.8 749.04L75.56 749.03L76.33 749.03L77.09 749.03L77.85 749.03L78.61 749.03L79.38 749.02L80.14 749.02L80.9 749.02L81.67 749.01L82.43 749.01L83.19 749.01L83.96 749.01L84.72 749L85.48 749L86.24 748.99L87.01 748.99L87.77 748.99L88.53 748.98L89.3 748.97L90.06 748.97L90.82 748.96L91.58 748.95L92.35 748.94L93.11 748.92L93.87 748.91L94.64 748.89L95.4 748.87L96.16 748.86L96.92 748.84L97.69 748.82L98.45 748.8L99.21 748.77L99.98 748.75L100.74 748.73L101.5 748.71L102.27 748.68L103.03 748.66L103.79 748.63L104.55 748.6L105.32 748.57L106.08 748.54L106.84 748.5L107.61 748.47L108.37 748.43L109.13 748.39L109.89 748.35L110.66 748.31L111.42 748.27L112.18 748.22L112.95 748.17L113.71 748.12L114.47 748.07L115.23 748.01L116 747.96L116.76 747.89L117.52 747.83L118.29 747.76L119.05 747.68L119.81 747.61L120.58 747.53L121.34 747.45L122.1 747.37L122.86 747.29L123.63 747.21L124.39 747.13L125.15 747.04L125.92 746.96L126.68 746.88L127.44 746.8L128.2 746.72L128.97 746.63L129.73 746.54L130.49 746.45L131.26 746.35L132.02 746.24L132.78 746.13L133.54 746.02L134.31 745.92L135.07 745.81L135.83 745.7L136.6 745.59L137.36 745.48L138.12 745.37L138.89 745.26L139.65 745.14L140.41 745.02L141.17 744.89L141.94 744.76L142.7 744.63L143.46 744.49L144.23 744.35L144.99 744.2L145.75 744.04L146.51 743.87L147.28 743.7L148.04 743.51L148.8 743.31L149.57 743.08L150.33 742.84L151.09 742.56L151.86 742.25L152.62 741.91L153.38 741.53L154.14 741.12L154.91 740.66L155.67 740.16L156.43 739.61L157.2 739.01L157.96 738.36L158.72 737.65L159.48 736.88L160.25 736.04L161.01 735.13L161.77 734.15L162.54 733.1L163.3 731.97L164.06 730.77L164.82 729.52L165.59 728.22L166.35 726.87L167.11 725.48L167.88 724.07L168.64 722.65L169.4 721.2L170.17 719.75L170.93 718.29L171.69 716.83L172.45 715.37L173.22 713.92L173.98 712.46L174.74 711.01L175.51 709.56L176.27 708.1L177.03 706.63L177.79 705.15L178.56 703.66L179.32 702.14L180.08 700.6L180.85 699.04L181.61 697.46L182.37 695.84L183.13 694.19L183.9 692.49L184.66 690.76L185.42 688.98L186.19 687.16L186.95 685.3L187.71 683.4L188.48 681.48L189.24 679.54L190 677.59L190.76 675.63L191.53 673.68L192.29 671.73L193.05 669.8L193.82 667.9L194.58 666.01L195.34 664.15L196.1 662.32L196.87 660.51L197.63 658.73L198.39 656.96L199.16 655.22L199.92 653.5L200.68 651.8L201.44 650.12L202.21 648.46L202.97 646.83L203.73 645.21L204.5 643.62L205.26 642.05L206.02 640.5L206.79 638.98L207.55 637.47L208.31 635.98L209.07 634.5L209.84 633.03L210.6 631.55L211.36 630.06L212.13 628.57L212.89 627.07L213.65 625.56L214.41 624.04L215.18 622.51L215.94 620.98L216.7 619.44L217.47 617.9L218.23 616.35L218.99 614.8L219.75 613.24L220.52 611.67L221.28 610.11L222.04 608.53L222.81 606.95L223.57 605.37L224.33 603.78L225.1 602.2L225.86 600.63L226.62 599.07L227.38 597.53L228.15 595.99L228.91 594.48L229.67 592.97L230.44 591.48L231.2 590L231.96 588.53L232.72 587.06L233.49 585.59L234.25 584.13L235.01 582.67L235.78 581.22L236.54 579.77L237.3 578.33L238.06 576.89L238.83 575.47L239.59 574.06L240.35 572.65L241.12 571.26L241.88 569.87L242.64 568.48L243.41 567.11L244.17 565.74L244.93 564.37L245.69 563.02L246.46 561.67L247.22 560.33L247.98 559L248.75 557.67L249.51 556.35L250.27 555.05L251.03 553.75L251.8 552.46L252.56 551.18L253.32 549.9L254.09 548.64L254.85 547.39L255.61 546.14L256.38 544.91L257.14 543.68L257.9 542.47L258.66 541.26L259.43 540.06L260.19 538.86L260.95 537.67L261.72 536.49L262.48 535.31L263.24 534.14L264 532.97L264.77 531.81L265.53 530.67L266.29 529.54L267.06 528.42L267.82 527.32L268.58 526.22L269.34 525.14L270.11 524.07L270.87 523.01L271.63 521.95L272.4 520.9L273.16 519.86L273.92 518.82L274.69 517.79L275.45 516.76L276.21 515.75L276.97 514.74L277.74 513.75L278.5 512.76L279.26 511.79L280.03 510.83L280.79 509.87L281.55 508.93L282.31 508L283.08 507.07L283.84 506.16L284.6 505.27L285.37 504.39L286.13 503.53L286.89 502.68L287.65 501.85L288.42 501.04L289.18 500.24L289.94 499.46L290.71 498.7L291.47 497.95L292.23 497.21L293 496.49L293.76 495.79L294.52 495.1L295.28 494.43L296.05 493.78L296.81 493.14L297.57 492.52L298.34 491.93L299.1 491.37L299.86 490.83L300.62 490.31L301.39 489.82L302.15 489.35L302.91 488.9L303.68 488.48L304.44 488.07L305.2 487.68L305.96 487.31L306.73 486.96L307.49 486.63L308.25 486.31L309.02 486L309.78 485.71L310.54 485.43L311.31 485.17L312.07 484.93L312.83 484.7L313.59 484.49L314.36 484.3L315.12 484.12L315.88 483.96L316.65 483.82L317.41 483.69L318.17 483.58L318.93 483.47L319.7 483.38L320.46 483.29L321.22 483.21L321.99 483.14L322.75 483.08L323.51 483.03L324.27 482.98L325.04 482.93L325.8 482.88L326.56 482.84L327.33 482.8L328.09 482.77L328.85 482.73L329.62 482.7L330.38 482.68L331.14 482.65L331.9 482.62L332.67 482.6L333.43 482.58L334.19 482.55L334.96 482.53L335.72 482.51L336.48 482.49L337.24 482.47L338.01 482.46L338.77 482.44L339.53 482.42L340.3 482.41L341.06 482.4L341.82 482.38L342.59 482.37L343.35 482.36L344.11 482.35L344.87 482.34L345.64 482.33L346.4 482.32L347.16 482.32L347.93 482.31L348.69 482.3L349.45 482.29L350.21 482.28L350.98 482.28L351.74 482.27L352.5 482.27L353.27 482.26L354.03 482.25L354.79 482.25L355.55 482.24L356.32 482.24L357.08 482.23L357.84 482.23L358.61 482.23L359.37 482.22L360.13 482.22L360.9 482.21L361.66 482.21L362.42 482.21L363.18 482.2L363.95 482.2L364.71 482.2L365.47 482.19L366.24 482.19L367 482.19L367.76 482.18L368.52 482.18L369.29 482.18L370.05 482.18L370.81 482.17L371.58 482.17L372.34 482.17L373.1 482.17L373.86 482.16" stroke="#000" stroke-width="1.1"/>
<path d="M68.7 749.05L69.46 749.05L70.22 749.05L70.99 749.05L71.75 749.05L72.51 749.05L73.27 749.05L74.04 749.05L74.8 749.05L75.56 749.05L76.33 749.05L77.09 749.05L77.85 749.05L78.61 749.05L79.38 749.05L80.14 749.05L80.9 749.05L81.67 749.05L82.43 749.05L83.19 749.05L83.96 749.05L84.72 749.05L85.48 749.05L86.24 749.05L87.01 749.05L87.77 749.05L88.53 749.05L89.3 749.05L90.06 749.05L90.82 749.05L91.58 749.05L92.35 749.05L93.11 749.05L93.87 749.05L94.64 749.05L95.4 749.05L96.16 749.05L96.92 749.05L97.69 749.05L98.45 749.05L99.21 749.05L99.98 749.05L100.74 749.04L101.5 749.04L102.27 749.04L103.03 749.04L103.79 749.04L104.55 749.04L105.32 749.04L106.08 749.03L106.84 749.03L107.61 749.03L108.37 749.03L109.13 749.02L109.89 749.02L110.66 749.02L111.42 749.01L112.18 749.01L112.95 749L113.71 749L114.47 748.99L115.23 748.99L116 748.98L116.76 748.97L117.52 748.96L118.29 748.96L119.05 748.95L119.81 748.94L120.58 748.93L121.34 748.91L122.1 748.9L122.86 748.89L123.63 748.87L124.39 748.85L125.15 748.84L125.92 748.82L126.68 748.8L127.44 748.77L128.2 748.75L128.97 748.72L129.73 748.69L130.49 748.66L131.26 748.63L132.02 748.59L132.78 748.56L133.54 748.52L134.31 748.47L135.07 748.42L135.83 748.37L136.6 748.32L137.36 748.26L138.12 748.2L138.89 748.13L139.65 748.06L140.41 747.98L141.17 747.9L141.94 747.81L142.7 747.72L143.46 747.62L144.23 747.51L144.99 747.4L145.75 747.28L146.51 747.15L147.28 747.01L148.04 746.87L148.8 746.71L149.57 746.55L150.33 746.38L151.09 746.19L151.86 746L152.62 745.79L153.38 745.57L154.14 745.34L154.91 745.1L155.67 744.84L156.43 744.57L157.2 744.29L157.96 743.99L158.72 743.67L159.48 743.33L160.25 742.98L161.01 742.61L161.77 742.23L162.54 741.82L163.3 741.39L164.06 740.94L164.82 740.47L165.59 739.98L166.35 739.46L167.11 738.93L167.88 738.36L168.64 737.77L169.4 737.16L170.17 736.52L170.93 735.85L171.69 735.15L172.45 734.43L173.22 733.67L173.98 732.89L174.74 732.07L175.51 731.22L176.27 730.34L177.03 729.43L177.79 728.48L178.56 727.5L179.32 726.48L180.08 725.43L180.85 724.34L181.61 723.22L182.37 722.06L183.13 720.86L183.9 719.62L184.66 718.34L185.42 717.03L186.19 715.67L186.95 714.28L187.71 712.85L188.48 711.37L189.24 709.86L190 708.31L190.76 706.71L191.53 705.08L192.29 703.4L193.05 701.69L193.82 699.93L194.58 698.14L195.34 696.3L196.1 694.43L196.87 692.51L197.63 690.56L198.39 688.57L199.16 686.54L199.92 684.48L200.68 682.38L201.44 680.24L202.21 678.07L202.97 675.86L203.73 673.62L204.5 671.35L205.26 669.04L206.02 666.71L206.79 664.35L207.55 661.95L208.31 659.53L209.07 657.09L209.84 654.62L210.6 652.13L211.36 649.61L212.13 647.08L212.89 644.52L213.65 641.95L214.41 639.37L215.18 636.76L215.94 634.15L216.7 631.52L217.47 628.88L218.23 626.24L218.99 623.59L219.75 620.93L220.52 618.27L221.28 615.61L222.04 612.95L222.81 610.29L223.57 607.63L224.33 604.98L225.1 602.33L225.86 599.7L226.62 597.07L227.38 594.46L228.15 591.85L228.91 589.27L229.67 586.69L230.44 584.14L231.2 581.61L231.96 579.09L232.72 576.6L233.49 574.13L234.25 571.68L235.01 569.27L235.78 566.87L236.54 564.51L237.3 562.18L238.06 559.87L238.83 557.6L239.59 555.36L240.35 553.15L241.12 550.98L241.88 548.84L242.64 546.74L243.41 544.68L244.17 542.65L244.93 540.66L245.69 538.71L246.46 536.79L247.22 534.92L247.98 533.08L248.75 531.29L249.51 529.53L250.27 527.82L251.03 526.14L251.8 524.51L252.56 522.91L253.32 521.36L254.09 519.85L254.85 518.37L255.61 516.94L256.38 515.54L257.14 514.19L257.9 512.88L258.66 511.6L259.43 510.36L260.19 509.16L260.95 508L261.72 506.87L262.48 505.79L263.24 504.73L264 503.72L264.77 502.74L265.53 501.79L266.29 500.88L267.06 499.99L267.82 499.15L268.58 498.33L269.34 497.54L270.11 496.79L270.87 496.06L271.63 495.37L272.4 494.7L273.16 494.06L273.92 493.44L274.69 492.86L275.45 492.29L276.21 491.75L276.97 491.24L277.74 490.75L278.5 490.28L279.26 489.83L280.03 489.4L280.79 488.99L281.55 488.61L282.31 488.24L283.08 487.88L283.84 487.55L284.6 487.23L285.37 486.93L286.13 486.65L286.89 486.38L287.65 486.12L288.42 485.88L289.18 485.64L289.94 485.43L290.71 485.22L291.47 485.03L292.23 484.84L293 484.67L293.76 484.51L294.52 484.35L295.28 484.21L296.05 484.07L296.81 483.94L297.57 483.82L298.34 483.71L299.1 483.6L299.86 483.5L300.62 483.41L301.39 483.32L302.15 483.24L302.91 483.16L303.68 483.09L304.44 483.02L305.2 482.96L305.96 482.9L306.73 482.85L307.49 482.8L308.25 482.75L309.02 482.7L309.78 482.66L310.54 482.62L311.31 482.59L312.07 482.56L312.83 482.52L313.59 482.5L314.36 482.47L315.12 482.45L315.88 482.42L316.65 482.4L317.41 482.38L318.17 482.36L318.93 482.35L319.7 482.33L320.46 482.32L321.22 482.31L321.99 482.29L322.75 482.28L323.51 482.27L324.27 482.26L325.04 482.25L325.8 482.25L326.56 482.24L327.33 482.23L328.09 482.23L328.85 482.22L329.62 482.22L330.38 482.21L331.14 482.21L331.9 482.2L332.67 482.2L333.43 482.2L334.19 482.19L334.96 482.19L335.72 482.19L336.48 482.19L337.24 482.18L338.01 482.18L338.77 482.18L339.53 482.18L340.3 482.18L341.06 482.18L341.82 482.17L342.59 482.17L343.35 482.17L344.11 482.17L344.87 482.17L345.64 482.17L346.4 482.17L347.16 482.17L347.93 482.17L348.69 482.17L349.45 482.17L350.21 482.17L350.98 482.17L351.74 482.17L352.5 482.17L353.27 482.17L354.03 482.17L354.79 482.17L355.55 482.17L356.32 482.17L357.08 482.17L357.84 482.17L358.61 482.17L359.37 482.17L360.13 482.17L360.9 482.17L361.66 482.16L362.42 482.16L363.18 482.16L363.95 482.16L364.71 482.16L365.47 482.16L366.24 482.16L367 482.16L367.76 482.16L368.52 482.16L369.29 482.16L370.05 482.16L370.81 482.16L371.58 482.16L372.34 482.16L373.1 482.16L373.86 482.16" stroke="#ff0000" stroke-width="1.75" stroke-dasharray="6.92 6.92"/>
</g>
<g stroke="#000" stroke-width="1.1" fill="none" stroke-linecap="round">
<path d="M68.7 759.73H373.86"/>
<path d="M68.7 759.73v6.89"/>
<path d="M144.99 759.73v6.89"/>
<path d="M221.28 759.73v6.89"/>
<path d="M297.57 759.73v6.89"/>
<path d="M373.86 759.73v6.89"/>
<path d="M56.49 482.16V749.05"/>
<path d="M56.49 749.05h-6.89"/>
<path d="M56.49 695.68h-6.89"/>
<path d="M56.49 642.3h-6.89"/>
<path d="M56.49 588.92h-6.89"/>
<path d="M56.49 535.54h-6.89"/>
<path d="M56.49 482.16h-6.89"/>
<rect x="56.49" y="471.49" width="329.58" height="288.24"/>
</g>
<g font-family="Liberation Sans, sans-serif" font-size="11.5px" fill="#000" text-anchor="middle" opacity="0.999">
<text x="68.7" y="784.53">−4</text>
<text x="144.99" y="784.53">−2</text>
<text x="221.28" y="784.53">0</text>
<text x="297.57" y="784.53">2</text>
<text x="373.86" y="784.53">4</text>
<text x="221.28" y="812.09">t</text>
<text transform="translate(39.96 749.05) rotate(-90)">0.0</text>
<text transform="translate(39.96 695.68) rotate(-90)">0.2</text>
<text transform="translate(39.96 642.3) rotate(-90)">0.4</text>
<text transform="translate(39.96 588.92) rotate(-90)">0.6</text>
<text transform="translate(39.96 535.54) rotate(-90)">0.8</text>
<text transform="translate(39.96 482.16) rotate(-90)">1.0</text>
<text transform="translate(12.4 615.61) rotate(-90)">Fn(t)</text>
</g>
<g clip-path="url(#c4)" fill="none" stroke-linejoin="round">
<path d="M483.7 749.05L484.46 749.05L485.22 749.05L485.99 749.05L486.75 749.05L487.51 749.05L488.27 749.05L489.04 749.05L489.8 749.05L490.56 749.05L491.33 749.05L492.09 749.05L492.85 749.05L493.61 749.05L494.38 749.05L495.14 749.05L495.9 749.05L496.67 749.05L497.43 749.04L498.19 749.04L498.96 749.04L499.72 749.04L500.48 749.04L501.24 749.04L502.01 749.04L502.77 749.03L503.53 749.03L504.3 749.03L505.06 749.03L505.82 749.02L506.58 749.02L507.35 749.02L508.11 749.01L508.87 749.01L509.64 749L510.4 749L511.16 748.99L511.92 748.99L512.69 748.98L513.45 748.97L514.21 748.96L514.98 748.95L515.74 748.94L516.5 748.93L517.27 748.92L518.03 748.91L518.79 748.89L519.55 748.88L520.32 748.86L521.08 748.84L521.84 748.82L522.61 748.79L523.37 748.77L524.13 748.74L524.89 748.71L525.66 748.68L526.42 748.64L527.18 748.6L527.95 748.56L528.71 748.52L529.47 748.47L530.23 748.42L531 748.36L531.76 748.3L532.52 748.23L533.29 748.16L534.05 748.08L534.81 747.99L535.58 747.9L536.34 747.8L537.1 747.7L537.86 747.58L538.63 747.46L539.39 747.33L540.15 747.18L540.92 747.03L541.68 746.87L542.44 746.69L543.2 746.5L543.97 746.3L544.73 746.09L545.49 745.86L546.26 745.61L547.02 745.35L547.78 745.07L548.54 744.77L549.31 744.45L550.07 744.12L550.83 743.76L551.6 743.38L552.36 742.97L553.12 742.54L553.89 742.08L554.65 741.6L555.41 741.08L556.17 740.54L556.94 739.97L557.7 739.36L558.46 738.72L559.23 738.04L559.99 737.33L560.75 736.57L561.51 735.78L562.28 734.95L563.04 734.07L563.8 733.15L564.57 732.18L565.33 731.17L566.09 730.1L566.86 728.99L567.62 727.82L568.38 726.6L569.14 725.32L569.91 723.99L570.67 722.59L571.43 721.14L572.2 719.63L572.96 718.05L573.72 716.41L574.48 714.71L575.25 712.93L576.01 711.09L576.77 709.18L577.54 707.21L578.3 705.16L579.06 703.03L579.82 700.84L580.59 698.57L581.35 696.24L582.11 693.82L582.88 691.33L583.64 688.77L584.4 686.13L585.17 683.42L585.93 680.64L586.69 677.78L587.45 674.85L588.22 671.84L588.98 668.77L589.74 665.62L590.51 662.41L591.27 659.12L592.03 655.77L592.79 652.36L593.56 648.89L594.32 645.35L595.08 641.76L595.85 638.11L596.61 634.41L597.37 630.66L598.13 626.86L598.9 623.02L599.66 619.14L600.42 615.23L601.19 611.28L601.95 607.31L602.71 603.31L603.48 599.29L604.24 595.26L605 591.22L605.76 587.17L606.53 583.13L607.29 579.09L608.05 575.06L608.82 571.04L609.58 567.05L610.34 563.08L611.1 559.15L611.87 555.25L612.63 551.4L613.39 547.59L614.16 543.84L614.92 540.15L615.68 536.53L616.44 532.98L617.21 529.51L617.97 526.13L618.73 522.83L619.5 519.62L620.26 516.52L621.02 513.52L621.79 510.63L622.55 507.86L623.31 505.21L624.07 502.68L624.84 500.28L625.6 498.02L626.36 495.89L627.13 493.9L627.89 492.06L628.65 490.37L629.41 488.83L630.18 487.45L630.94 486.22L631.7 485.15L632.47 484.24L633.23 483.49L633.99 482.91L634.75 482.49L635.52 482.24L636.28 482.16L637.04 482.24L637.81 482.49L638.57 482.91L639.33 483.49L640.1 484.24L640.86 485.15L641.62 486.22L642.38 487.45L643.15 488.83L643.91 490.37L644.67 492.06L645.44 493.9L646.2 495.89L646.96 498.02L647.72 500.28L648.49 502.68L649.25 505.21L650.01 507.86L650.78 510.63L651.54 513.52L652.3 516.52L653.06 519.62L653.83 522.83L654.59 526.13L655.35 529.51L656.12 532.98L656.88 536.53L657.64 540.15L658.41 543.84L659.17 547.59L659.93 551.4L660.69 555.25L661.46 559.15L662.22 563.08L662.98 567.05L663.75 571.04L664.51 575.06L665.27 579.09L666.03 583.13L666.8 587.17L667.56 591.22L668.32 595.26L669.09 599.29L669.85 603.31L670.61 607.31L671.38 611.28L672.14 615.23L672.9 619.14L673.66 623.02L674.43 626.86L675.19 630.66L675.95 634.41L676.72 638.11L677.48 641.76L678.24 645.35L679 648.89L679.77 652.36L680.53 655.77L681.29 659.12L682.06 662.41L682.82 665.62L683.58 668.77L684.34 671.84L685.11 674.85L685.87 677.78L686.63 680.64L687.4 683.42L688.16 686.13L688.92 688.77L689.69 691.33L690.45 693.82L691.21 696.24L691.97 698.57L692.74 700.84L693.5 703.03L694.26 705.16L695.03 707.21L695.79 709.18L696.55 711.09L697.31 712.93L698.08 714.71L698.84 716.41L699.6 718.05L700.37 719.63L701.13 721.14L701.89 722.59L702.65 723.99L703.42 725.32L704.18 726.6L704.94 727.82L705.71 728.99L706.47 730.1L707.23 731.17L708 732.18L708.76 733.15L709.52 734.07L710.28 734.95L711.05 735.78L711.81 736.57L712.57 737.33L713.34 738.04L714.1 738.72L714.86 739.36L715.62 739.97L716.39 740.54L717.15 741.08L717.91 741.6L718.68 742.08L719.44 742.54L720.2 742.97L720.96 743.38L721.73 743.76L722.49 744.12L723.25 744.45L724.02 744.77L724.78 745.07L725.54 745.35L726.31 745.61L727.07 745.86L727.83 746.09L728.59 746.3L729.36 746.5L730.12 746.69L730.88 746.87L731.65 747.03L732.41 747.18L733.17 747.33L733.93 747.46L734.7 747.58L735.46 747.7L736.22 747.8L736.99 747.9L737.75 747.99L738.51 748.08L739.27 748.16L740.04 748.23L740.8 748.3L741.56 748.36L742.33 748.42L743.09 748.47L743.85 748.52L744.62 748.56L745.38 748.6L746.14 748.64L746.9 748.68L747.67 748.71L748.43 748.74L749.19 748.77L749.96 748.79L750.72 748.82L751.48 748.84L752.24 748.86L753.01 748.88L753.77 748.89L754.53 748.91L755.3 748.92L756.06 748.93L756.82 748.94L757.59 748.95L758.35 748.96L759.11 748.97L759.87 748.98L760.64 748.99L761.4 748.99L762.16 749L762.93 749L763.69 749.01L764.45 749.01L765.21 749.02L765.98 749.02L766.74 749.02L767.5 749.03L768.27 749.03L769.03 749.03L769.79 749.03L770.55 749.04L771.32 749.04L772.08 749.04L772.84 749.04L773.61 749.04L774.37 749.04L775.13 749.04L775.9 749.05L776.66 749.05L777.42 749.05L778.18 749.05L778.95 749.05L779.71 749.05L780.47 749.05L781.24 749.05L782 749.05L782.76 749.05L783.52 749.05L784.29 749.05L785.05 749.05L785.81 749.05L786.58 749.05L787.34 749.05L788.1 749.05L788.86 749.05" stroke="#ff0000" stroke-width="1.75" stroke-dasharray="6.92 6.92"/>
<path d="M483.25 748.85L495 748.8L503.1 748.6L509.8 747.3L517.7 746.5L528.3 744.1L533.6 741.7L538.4 740.6L542.9 740.9L547.4 738L552.2 738.2L558.8 734.8L562.8 730.3L565.4 722.9L569.4 704.3L573.4 677.8L576 654L578.7 627.5L581.3 610.2L584.5 602L587.9 601.8L590.6 602.8L593.2 598.3L596.7 587.7L599.9 570.5L602.5 555.9L605.7 550.6L608.4 555.9L611.8 567.8L617.1 582.4L621.6 595.7L624.3 601L630.4 594.3L639.4 588.5L645.6 599.6L651.3 602.8L654.5 606.8L663.7 615.5L673 626.9L678.8 631.4L684.9 641.5L689.4 644.7L698.2 656.6L704.8 670.7L711.4 684.4L716.7 701.7L720.7 712.3L726 722.9L732.6 737.5L737.9 743.5L744.6 746.2L757.8 748L771 748.6L789.1 748.85" stroke="#000" stroke-width="1.1"/>
</g>
<g stroke="#000" stroke-width="1.1" fill="none" stroke-linecap="round">
<path d="M483.7 759.73H788.86"/>
<path d="M483.7 759.73v6.89"/>
<path d="M559.99 759.73v6.89"/>
<path d="M636.28 759.73v6.89"/>
<path d="M712.57 759.73v6.89"/>
<path d="M788.86 759.73v6.89"/>
<path d="M471.49 481.45V749.05"/>
<path d="M471.49 749.05h-6.89"/>
<path d="M471.49 695.53h-6.89"/>
<path d="M471.49 642.01h-6.89"/>
<path d="M471.49 588.49h-6.89"/>
<path d="M471.49 534.97h-6.89"/>
<path d="M471.49 481.45h-6.89"/>
<rect x="471.49" y="471.49" width="329.58" height="288.24"/>
</g>
<g font-family="Liberation Sans, sans-serif" font-size="11.5px" fill="#000" text-anchor="middle" opacity="0.999">
<text x="483.7" y="784.53">−4</text>
<text x="559.99" y="784.53">−2</text>
<text x="636.28" y="784.53">0</text>
<text x="712.57" y="784.53">2</text>
<text x="788.86" y="784.53">4</text>
<text x="636.28" y="812.09">x</text>
<text transform="translate(454.96 749.05) rotate(-90)">0.0</text>
<text transform="translate(454.96 695.53) rotate(-90)">0.1</text>
<text transform="translate(454.96 642.01) rotate(-90)">0.2</text>
<text transform="translate(454.96 588.49) rotate(-90)">0.3</text>
<text transform="translate(454.96 534.97) rotate(-90)">0.4</text>
<text transform="translate(454.96 481.45) rotate(-90)">0.5</text>
<text transform="translate(427.4 615.61) rotate(-90)">dnorm(x, sd = 0.8)</text>
</g>
</svg></body></html>
